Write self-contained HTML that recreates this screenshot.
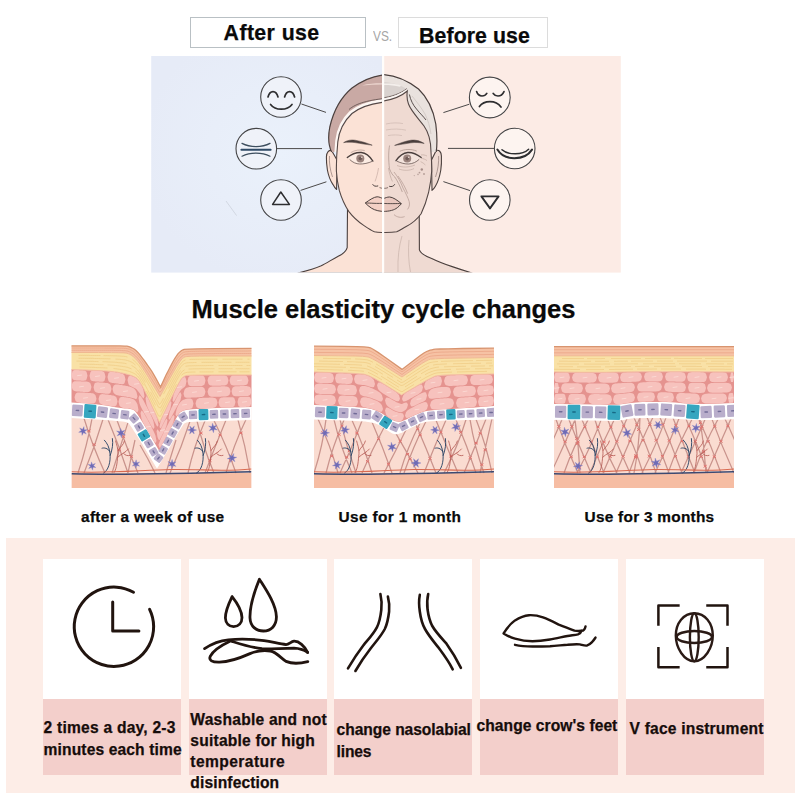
<!DOCTYPE html>
<html>
<head>
<meta charset="utf-8">
<style>
html,body{margin:0;padding:0;}
body{width:800px;height:800px;position:relative;overflow:hidden;background:#fff;font-family:"Liberation Sans",sans-serif;color:#0a0a0a;}
.abs{position:absolute;}
.tx{position:absolute;white-space:nowrap;-webkit-text-stroke:0.25px currentColor;}
.tbox{position:absolute;top:17px;height:31px;box-sizing:border-box;background:#fff;text-align:center;font-weight:bold;font-size:22px;line-height:30px;white-space:nowrap;}
#b1{left:190px;width:176px;border:1px solid #b9c0c4;}
#b2{left:398px;width:150px;border:1px solid #dcdcdc;}
#vs{position:absolute;left:372px;top:28px;font-size:13px;color:#a0a0a0;letter-spacing:-0.5px;line-height:16px;}
#panel{position:absolute;left:151px;top:56px;width:470px;height:216.6px;}
#title{position:absolute;left:0;width:800px;top:292px;text-align:center;font-weight:bold;font-size:26px;line-height:32px;white-space:nowrap;}
.sk{position:absolute;top:345px;width:182px;height:143px;}
.lbl{position:absolute;top:508px;font-weight:bold;font-size:15px;line-height:20px;white-space:nowrap;}
#bottom{position:absolute;left:6px;top:538px;width:788.5px;height:254.5px;background:#fdede7;}
.card{position:absolute;top:559px;width:138px;height:140px;background:#fff;}
.cap{position:absolute;top:699px;width:138px;height:76px;background:#f3cfcb;}
.ct{position:absolute;font-weight:bold;font-size:15px;line-height:21px;white-space:nowrap;color:#120a08;}
</style>
</head>
<body>
<div class="tbox" id="b1"></div>
<div class="tbox" id="b2"></div>

<svg id="panel" viewBox="151 56 470 216.6">
<defs>
<radialGradient id="gl" cx="0.55" cy="0.45" r="0.6"><stop offset="0" stop-color="#eaf1fb"/><stop offset="1" stop-color="#e6ebf7"/></radialGradient>
<clipPath id="cpL"><rect x="151" y="56" width="231" height="216.5"/></clipPath>
<clipPath id="cpR"><rect x="384" y="56" width="236" height="216.5"/></clipPath>
<clipPath id="cpAll"><rect x="151.2" y="56" width="469.6" height="216.6"/></clipPath>
</defs>
<rect x="151.2" y="56" width="232" height="216.6" fill="url(#gl)"/>
<rect x="383" y="56" width="237.8" height="216.6" fill="#fcebe5"/>
<g clip-path="url(#cpAll)">
<path d="M226,201 L236.6,215.6" stroke="#c3c8d2" stroke-width="0.6" fill="none"/>
<!-- LEFT half -->
<g clip-path="url(#cpL)">
 <!-- neck + shoulders -->
 <path d="M347.5,208 L347.2,247.7 C346,252 342,254.5 338.2,256.2 C332,259.5 326,263.5 321.2,265.8 C314,269 306,271 298,273 L390,273 L390,208 Z" fill="#fbe2d6" stroke="#4a3f3d" stroke-width="1.1" stroke-linejoin="round"/>
 <!-- ear -->
 <path d="M331.6,150.5 C329,150 326.6,152 326.4,157 C326.3,162 326.8,166 327.4,170 C328.5,176 330.5,181 333,184.6 C334,186.6 335.4,188.6 336.6,189.5 L337,160 Z" fill="#fbe2d6" stroke="#4a3f3d" stroke-width="1.1" stroke-linejoin="round"/>
 <!-- hair -->
 <path d="M390,74.4 C376,74.6 364,79 352,88 C340,98 333,113 329.8,127 C328.2,135 328.3,145 331.6,152 L337.5,152 C336.5,140 339,128 345,118 C352,108 366,101 390,98 Z" fill="#c9a9a4"/>
 <path d="M362,85.5 C369,83.5 376,83.2 383,83.3 L383,84.6 C376,84.6 369,85 362,85.5 Z" fill="#ecd6cf"/>
 <!-- face skin -->
 <path d="M390,101.5 C372,102.8 360,107 352,113.5 C344,121 339,131 337.8,142 C337,150 336.2,160 336.4,171.2 C336.8,178 337.8,184 339.3,190.4 C341.5,198 344.5,205 348.9,211.6 C353,217 358,221.5 363.7,225.4 C367,227.6 370.5,230 374.4,231.8 C378,232.6 384,232.6 390,232.4 Z" fill="#fbe2d6"/>
 <!-- white band under hair -->
 <path d="M390,99.6 C371,101 358,105.5 350,112.5 C342,120 337.6,131 336.4,141 L335.6,152" fill="none" stroke="#fdf6f2" stroke-width="2.4"/>
 <!-- outlines -->
 <path d="M390,74.4 C376,74.6 364,79 352,88 C340,98 333,113 329.8,127 C328.2,135 328.3,145 331.6,152" fill="none" stroke="#4a3f3d" stroke-width="1.2"/>
 <path d="M390,98 C368,99.8 356,103.5 349,109.5" fill="none" stroke="#5a4b49" stroke-width="0.8"/>
 <path d="M390,101.5 C372,102.8 360,107 352,113.5 C344,121 339,131 337.8,142 C337,150 336.2,160 336.4,171.2 C336.8,178 337.8,184 339.3,190.4 C341.5,198 344.5,205 348.9,211.6 C353,217 358,221.5 363.7,225.4 C367,227.6 370.5,230 374.4,231.8 C378,232.6 384,232.6 390,232.4" fill="none" stroke="#544745" stroke-width="1.1"/>
 <!-- inner ear line -->
 <path d="M329.5,156 C329,162 330,170 332.5,177" fill="none" stroke="#8f7a76" stroke-width="0.7"/>
 <!-- eyebrow -->
 <path d="M343.6,142.6 C347,140.3 351,139.6 355,140.2 C361,141.2 367,143 372.2,145.2 C367,144.6 361,143.6 355,142.6 C351,142 347,142 343.6,142.6 Z" fill="#4a3f3d" stroke="#4a3f3d" stroke-width="0.5" stroke-linejoin="round"/>
<g transform="translate(0.7,0.9)">
 <!-- eye -->
 <path d="M347.6,157 C351,153.5 356,151.6 360.5,151.8 C365,152.2 369,155.5 372,160.2 C368,162.2 363,163.4 358.5,163 C354,162.4 350,160 347.6,157 Z" fill="#fcece3"/>
 <circle cx="359.6" cy="157.6" r="4" fill="#9a827c"/>
 <circle cx="359.6" cy="157.6" r="1.8" fill="#6f5a56"/><circle cx="361.1" cy="156.3" r="0.8" fill="#e9dcd6"/>
 <path d="M346.6,156.6 C351,153 356,151.4 360.5,151.6 C365,152 369,155.3 372.2,160.2" fill="none" stroke="#4a3f3d" stroke-width="1.3" stroke-linecap="round"/>
 <path d="M349,158.6 C352,161.6 355.5,163 359,163.1 C363,163.2 367.5,162.3 371.6,160.4" fill="none" stroke="#6a5854" stroke-width="0.8"/>
 <path d="M350,151.8 C354,149.2 359,148.4 364,149.6" fill="none" stroke="#a89088" stroke-width="0.6"/>
</g>
 <!-- nose -->
 <path d="M378.5,168 C377.8,173 376.4,178 375,181.5" fill="none" stroke="#c7aca3" stroke-width="0.7"/>
 <path d="M372.8,184.6 C373.6,186.2 375.6,186.6 377.8,186 " fill="none" stroke="#4a3f3d" stroke-width="1" stroke-linecap="round"/>
 <path d="M379.5,187.6 C381,188.2 382.6,188.4 384,188.3" fill="none" stroke="#6a5854" stroke-width="0.8"/>
 <!-- lips -->
 <path d="M365.3,203 C370,199.6 374,197 377.1,196.8 C379.6,196.8 381,198 383.3,198.6 L386,198.6 L386,211.5 C380,211.6 375,210.4 371.5,208.2 C369,206.6 367,204.8 365.3,203 Z" fill="#f4d0c5"/>
 <path d="M386,198.6 L383.3,198.6 C381,198 379.6,196.8 377.1,196.8 C374,197 370,199.6 365.3,203 C367,204.8 369,206.6 371.5,208.2 C375,210.4 380,211.6 386,211.5" fill="none" stroke="#4a3f3d" stroke-width="1" stroke-linejoin="round"/>
 <path d="M365.3,203 C371,203 376,203.8 386,203.2" fill="none" stroke="#4a3f3d" stroke-width="0.9"/>
</g>
<!-- RIGHT half -->
<g clip-path="url(#cpR)">
 <path d="M419.2,208 L419.4,249.9 C420.5,253.5 425,256 431.7,258.4 C438,261.5 446,264.5 453,266.9 C459,269 466,271.2 472,273 L380,273 L380,208 Z" fill="#efdad2" stroke="#4a3f3d" stroke-width="1.1" stroke-linejoin="round"/>
 <!-- neck wrinkles -->
 <path d="M402,236 C399,246 397.5,258 398,272 M409,240 C408,250 408.5,262 410.5,272" fill="none" stroke="#c9b3ab" stroke-width="0.7"/>
 <!-- ear -->
 <path d="M436.2,150.5 C439,149.6 441.2,151.6 441.4,156 C441.6,161 441.4,166 440.8,170 C439.8,176 438,182 435.4,186.2 C434.4,188 433,189.6 432,190.4 L431.5,160 Z" fill="#efdad2" stroke="#4a3f3d" stroke-width="1.1" stroke-linejoin="round"/>
 <!-- hair (grey) -->
 <path d="M380,74.4 C394,74.6 407,80 418.5,89 C428,98 433.5,111 435.8,124 C437,134 437.4,144 436.2,152 L430.5,152 C431,142 429,132 424,126 C418,118 410.5,110 408,102 C407,98 407,94.5 407.5,90.5 C401,96 392,100 380,101.5 Z" fill="#e9e2de"/>
 <path d="M380,82 C390,82 398,84 406,88.5 C399,93.5 391,97 380,98.2 Z" fill="#d9d2cf"/>
 <path d="M384,83.6 C390,83.2 396,83.8 401,85.4 L400,86.8 C395,85.6 390,85 384,85 Z" fill="#f4efec"/>
 <!-- face skin -->
 <path d="M380,101.5 C392,100 401,96.5 407.3,91 C406.6,96 407,100 408.5,104 C411,111 418,118 424,126 C429,133 431,142 431,152 C431.6,160 431.8,166 431.7,171.2 C431.2,179 430,186 428.6,192.5 C426.8,200 424.4,207 421.1,213.7 C417,219.5 412,223.5 406.2,226.5 C402.5,228.5 399.5,230.5 396.7,231.8 C392,232.6 386,232.6 380,232.4 Z" fill="#efdad2"/>
 <!-- outlines -->
 <path d="M380,74.4 C394,74.6 407,80 418.5,89 C428,98 433.5,111 435.8,124 C437,134 437.4,144 436.2,152" fill="none" stroke="#4a3f3d" stroke-width="1.2"/>
 <path d="M380,98.2 C392,97 400,93.6 407,88.6" fill="none" stroke="#5a4b49" stroke-width="0.8"/>
 <path d="M380,99.9 C392,98.6 400.5,95.3 407.2,90" fill="none" stroke="#fbf6f3" stroke-width="1.6"/>
 <path d="M380,101.5 C392,100 401,96.5 407.3,91 C406.6,96 407,100 408.5,104 C411,111 418,118 424,126 C429,133 431,142 431,152" fill="none" stroke="#544745" stroke-width="1.1"/>
 <path d="M409.4,94.5 C410.5,100 413,105 416.5,109 C420,113.5 423.5,116.5 426,120" fill="none" stroke="#4a3f3d" stroke-width="0.9"/>
 <path d="M412,96 C416,101 421,107 425,114 C428,120 430,127 431,134" fill="none" stroke="#cfc6c2" stroke-width="0.8"/>
 <path d="M431,152 C431.6,160 431.8,166 431.7,171.2 C431.2,179 430,186 428.6,192.5 C426.8,200 424.4,207 421.1,213.7 C417,219.5 412,223.5 406.2,226.5 C402.5,228.5 399.5,230.5 396.7,231.8 C392,232.6 386,232.6 380,232.4" fill="none" stroke="#544745" stroke-width="1.1"/>
 <path d="M438.6,156 C439,162 438,170 435.5,177" fill="none" stroke="#8f7a76" stroke-width="0.7"/>
 <!-- forehead wrinkles -->
 <path d="M386,124 C392,122.6 398,122.6 403,123.6 M386,130 C393,128.6 400,128.8 406,130.2 M388,135.6 C393,134.6 398,134.8 402,135.6" fill="none" stroke="#d2bdb5" stroke-width="0.8"/>
 <!-- eyebrow -->
 <path d="M394.6,145.4 C400,143 406,141 411,140.2 C415.5,139.6 420,140.8 424.2,143.4 C420,142.6 415.5,142.2 411,142.8 C405.5,143.6 400,144.8 394.6,145.4 Z" fill="#4a3f3d" stroke="#4a3f3d" stroke-width="0.5" stroke-linejoin="round"/>
<g transform="translate(0.8,0.7)">
 <!-- eye -->
 <path d="M395.4,160 C398.5,155.4 402.5,152.4 407,152 C411.5,151.8 416,153.6 419.4,157 C417,160.2 413,162.6 408.6,163.2 C404,163.6 399.4,162.2 395.4,160 Z" fill="#f3e3dc"/>
 <circle cx="406.4" cy="157.9" r="4" fill="#9a827c"/>
 <circle cx="406.4" cy="157.9" r="1.8" fill="#6f5a56"/><circle cx="407.9" cy="156.6" r="0.8" fill="#e9dcd6"/>
 <path d="M395.2,160 C398.5,155.2 402.5,152.2 407,151.8 C411.5,151.6 416,153.4 420.4,156.8" fill="none" stroke="#4a3f3d" stroke-width="1.3" stroke-linecap="round"/>
 <path d="M396,160.4 C400,162.4 404,163.4 408,163.3 C412,163 415.5,161.4 418.4,158.6" fill="none" stroke="#6a5854" stroke-width="0.8"/>
 <path d="M399,150.6 C404,148.4 410,148 416,150.4" fill="none" stroke="#a89088" stroke-width="0.7"/>
</g>
 <!-- eye bags / crow's feet -->
 <path d="M397,165.5 C402,167.6 409,167.6 415,165 M399,169 C404,171 410,170.6 414,168.6 M421,155 C423,154.6 425,155 427,156 M421.4,158.4 C423.4,158.6 425.4,159.4 427,160.6 M420.6,161.6 C422.4,162.4 424,163.6 425.4,165" fill="none" stroke="#c4ada5" stroke-width="0.7"/>
 <!-- spots -->
 <circle cx="421.8" cy="169.5" r="1.2" fill="#a58d88"/><circle cx="419.5" cy="172.6" r="0.9" fill="#b39c96"/><circle cx="424" cy="174" r="0.9" fill="#b39c96"/><circle cx="418" cy="174.4" r="0.8" fill="#bda7a1"/><circle cx="414.3" cy="175.6" r="0.7" fill="#c4aea8"/>
 <!-- nose + nasolabial -->
 <path d="M389.6,145.5 C388.4,151 388.4,160 389.5,168.8 C391,173 393,175.6 394.8,177 C397,180 400,186 402.3,192" fill="none" stroke="#a8918a" stroke-width="0.7"/>
 <path d="M388.5,168 C389.4,173 390.8,178 392.4,181.5" fill="none" stroke="#bfa69e" stroke-width="0.7"/>
 <path d="M389.6,186.4 C391.6,187 393.6,186.4 394.6,184.6" fill="none" stroke="#4a3f3d" stroke-width="1" stroke-linecap="round"/>
 <path d="M384,188.3 C385.4,188.4 386.8,188.2 388,187.6" fill="none" stroke="#6a5854" stroke-width="0.8"/>
 <path d="M394,172 C398,177 401,182.5 403,188 C405.6,193 408,197.6 409.2,201.6 C410,205 409,207.6 407.5,209.4 M398,176 C402,181.5 405.4,187.6 407.6,193.6 M394,214.6 C397,217.4 401,218 404.6,216.6" fill="none" stroke="#b9a098" stroke-width="0.8"/>
 <!-- lips -->
 <path d="M401.3,203.6 C397,200 393,197.2 389.5,197 C387,197 385.6,198 383.3,198.6 L380,198.6 L380,211.5 C388,211.6 392.6,210.6 396,208.6 C398.4,207 400,205.4 401.3,203.6 Z" fill="#e9c8bf"/>
 <path d="M380,198.6 L383.3,198.6 C385.6,198 387,197 389.5,197 C393,197.2 397,200 401.3,203.6 C400,205.4 398.4,207 396,208.6 C392.6,210.6 388,211.6 380,211.5" fill="none" stroke="#4a3f3d" stroke-width="1" stroke-linejoin="round"/>
 <path d="M401.3,203.6 C396,203.4 391,204 380,203.2" fill="none" stroke="#4a3f3d" stroke-width="0.9"/>
</g>
<!-- divider -->
<rect x="382" y="56" width="2.2" height="217" fill="#fffdfb"/>
<!-- connector lines -->
<g fill="none" stroke="#4a4848" stroke-width="1">
<path d="M301.4,104 L326,112.4 M277,148.6 L322,148.6 M300.6,190.4 L326.4,181.8"/>
<path d="M443.4,112.6 L469.4,104.2 M448,148.4 L494.4,148.4 M443.4,181.6 L470,190.6"/>
</g>
<!-- circles -->
<g fill="#eff2f9" stroke="#444446" stroke-width="1.1">
<circle cx="281" cy="97" r="20.3"/><circle cx="256.3" cy="148.7" r="20.3"/><circle cx="281" cy="200" r="20.3"/>
</g>
<g fill="#fdf4f0" stroke="#444446" stroke-width="1.1">
<circle cx="489.8" cy="97.5" r="20.4"/><circle cx="514.7" cy="148.5" r="20.3"/><circle cx="489.8" cy="200" r="20.3"/>
</g>
<g fill="none" stroke="#2e2e30" stroke-width="1.7" stroke-linecap="round" stroke-linejoin="round">
 <!-- smile -->
 <path d="M268,97 C269,93 271,91.6 273,91.6 C275,91.6 277,93 278,97 M284.6,97 C285.6,93 287.4,91.6 289.6,91.6 C291.8,91.6 293.6,93 294.6,97 M270.6,104.4 C273,107.6 277,109.2 281.2,109.2 C285.4,109.2 289.6,107.6 292,104.4"/>
 <!-- lines -->
 <path d="M242,143.4 C250,147.6 262,147.6 270,143.4 M242,156.2 C250,152 262,152 270,156.2" stroke-width="1.2" stroke="#3d4e5e"/>
 <path d="M241.4,149.8 L270.6,149.8" stroke-width="2" stroke="#2f4a66"/>
 <!-- triangle -->
 <path d="M280.8,192 L272.6,204.4 L289.4,204.4 Z" stroke-width="1.5"/>
 <!-- sad -->
 <path d="M476.6,91.6 C477.6,94.6 479.6,96 482,96 C484,96 485.8,95 486.8,93.4 M493.2,93.4 C494.4,95 496,96 498,96 C500.4,96 502.6,94.6 504,91.6 M479.4,106.6 C481.6,103.4 485.6,101.6 490,101.6 C494.4,101.6 498.6,103.6 501,107"/>
 <!-- sag -->
 <path d="M497.4,149.6 C500.5,155 506.5,158.2 514.4,158.2 C522.4,158.2 528.6,155 532,149.6" stroke-width="2"/>
 <path d="M502,149.8 C505,152.6 509.6,153.8 515.2,153.8 C521,153.8 525.6,152.2 528.6,149.2" stroke-width="1.5"/>
 <!-- down triangle -->
 <path d="M481.4,196.4 L498.6,196.4 L490,208.4 Z" stroke-width="1.9"/>
</g>
</g>
</svg>



<svg id="skins" class="abs" style="left:60px;top:340px" width="690" height="152" viewBox="60 340 690 152">
<clipPath id="c1"><rect x="71.5" y="340" width="180.0" height="148"/></clipPath>
<g clip-path="url(#c1)">
<path d="M71.0,402.5 L87.3,403.6 L95.8,404.3 L101.9,405.0 L107.5,405.8 L112.5,406.7 L117.0,407.4 L121.0,408.0 L124.5,408.4 L127.5,408.6 L130.1,409.0 L132.2,409.6 L133.9,410.3 L135.1,411.2 L137.4,414.2 L140.8,419.4 L146.6,429.1 L159.0,450.5 L169.7,430.2 L174.7,421.0 L177.6,416.1 L179.5,413.2 L180.5,412.3 L181.8,411.5 L183.2,410.8 L185.0,410.2 L187.0,409.8 L192.4,409.2 L201.1,408.8 L217.1,408.1 L252.0,407.0 L251.5,488.0 L71.5,488.0Z" fill="#fadcd1"/>
<rect x="71.5" y="473.0" width="180.0" height="15.0" fill="#f6bda3"/>
<path d="M84.0,418.2 Q92.3,445.6 105.0,473.0 M92.0,418.6 Q87.1,445.8 78.0,473.0 M103.0,419.3 Q95.1,446.1 84.0,473.0 M117.0,420.3 Q126.0,446.7 138.0,473.0 M128.0,422.4 Q120.0,447.7 112.0,473.0 M135.0,440.0 Q131.2,456.5 128.0,473.0 M140.0,445.0 Q148.4,459.0 155.0,473.0 M190.0,421.3 Q181.7,447.2 170.0,473.0 M197.0,421.0 Q203.1,447.0 214.0,473.0 M205.0,420.7 Q193.7,446.9 188.0,473.0 M214.0,420.5 Q227.0,446.7 236.0,473.0 M226.0,420.1 Q215.1,446.6 205.0,473.0 M238.0,419.9 Q245.6,446.4 250.0,473.0 M246.0,419.6 Q233.0,446.3 226.0,473.0 M176.0,440.0 Q170.7,456.5 166.0,473.0 M108.0,419.6 Q119.3,446.3 128.0,473.0" fill="none" stroke="#c9938c" stroke-width="1.25"/>
<path d="M87.3,429.6l3.2,2.4M87.3,432.0l3.2,-2.4 M92.5,443.3l3.2,2.4M92.5,445.7l3.2,-2.4 M121.9,435.4l3.2,2.4M121.9,437.8l3.2,-2.4 M129.9,455.4l3.2,2.4M129.9,457.8l3.2,-2.4 M117.7,448.6l3.2,2.4M117.7,451.0l3.2,-2.4 M199.4,431.9l3.2,2.4M199.4,434.3l3.2,-2.4 M208.3,459.4l3.2,2.4M208.3,461.8l3.2,-2.4 M218.5,433.8l3.2,2.4M218.5,436.2l3.2,-2.4 M229.1,459.2l3.2,2.4M229.1,461.6l3.2,-2.4 M239.4,431.8l3.2,2.4M239.4,434.2l3.2,-2.4" fill="none" stroke="#e0716d" stroke-width="1"/>
<path d="M84.02,426.62 L84.17,429.75 L87.31,429.69 L84.67,431.39 L86.29,434.08 L83.50,432.64 L81.98,435.38 L81.83,432.25 L78.69,432.31 L81.33,430.61 L79.71,427.92 L82.50,429.36Z M124.89,430.19 L122.81,432.81 L125.38,434.96 L122.07,434.48 L121.49,437.78 L120.25,434.66 L117.11,435.81 L119.19,433.19 L116.62,431.04 L119.93,431.52 L120.51,428.22 L121.75,431.34Z M95.29,463.39 L93.58,465.77 L95.90,467.55 L92.99,467.25 L92.61,470.16 L91.41,467.48 L88.71,468.61 L90.42,466.23 L88.10,464.45 L91.01,464.75 L91.39,461.84 L92.59,464.52Z M136.13,459.80 L136.84,462.64 L139.70,462.01 L137.60,464.05 L139.57,466.21 L136.76,465.41 L135.87,468.20 L135.16,465.36 L132.30,465.99 L134.40,463.95 L132.43,461.79 L135.24,462.59Z M172.12,459.40 L172.91,462.51 L176.04,461.80 L173.75,464.04 L175.92,466.40 L172.84,465.54 L171.88,468.60 L171.09,465.49 L167.96,466.20 L170.25,463.96 L168.08,461.60 L171.16,462.46Z M194.37,426.06 L193.53,429.15 L196.60,430.08 L193.50,430.90 L194.23,434.02 L191.97,431.75 L189.63,433.94 L190.47,430.85 L187.40,429.92 L190.50,429.10 L189.77,425.98 L192.03,428.25Z M216.87,425.17 L214.81,427.80 L217.39,429.94 L214.08,429.47 L213.52,432.77 L212.26,429.67 L209.13,430.83 L211.19,428.20 L208.61,426.06 L211.92,426.53 L212.48,423.23 L213.74,426.33Z M233.79,453.54 L233.43,456.87 L236.75,457.32 L233.69,458.68 L234.97,461.77 L232.26,459.81 L230.21,462.46 L230.57,459.13 L227.25,458.68 L230.31,457.32 L229.03,454.23 L231.74,456.19Z" fill="#6f6bb6" stroke="#8f8cc8" stroke-width="0.4"/>
<g transform="translate(110,473.0) scale(0.8) translate(-110,-473.0)">
<path d="M102,473.0 C108,470.0 111,459.0 110,449.0 C109.5,441.0 106,435.0 103,432.0 M110.3,451.0 C113,443.0 114,437.0 113,430.0 M109.7,446.0 C107,442.0 103,441.0 100,442.0" fill="none" stroke="#2f4868" stroke-width="1.2" stroke-linecap="round"/>
<path d="M115,472.5 C119,467.0 119,457.0 120,449.0 C120.5,443.0 118,437.0 117,433.0 M120,453.0 C124,449.0 129,448.0 133,443.0 M120,445.0 C123,440.0 127,438.0 128,433.0 M127,448.5 C129,451.0 132,452.0 135,451.0" fill="none" stroke="#b4564f" stroke-width="1" stroke-linecap="round"/>
</g>
<g transform="translate(203,473.0) scale(0.8) translate(-203,-473.0)">
<path d="M195,473.0 C201,470.0 204,459.0 203,449.0 C202.5,441.0 199,435.0 196,432.0 M203.3,451.0 C206,443.0 207,437.0 206,430.0 M202.7,446.0 C200,442.0 196,441.0 193,442.0" fill="none" stroke="#2f4868" stroke-width="1.2" stroke-linecap="round"/>
<path d="M208,472.5 C212,467.0 212,457.0 213,449.0 C213.5,443.0 211,437.0 210,433.0 M213,453.0 C217,449.0 222,448.0 226,443.0 M213,445.0 C216,440.0 220,438.0 221,433.0 M220,448.5 C222,451.0 225,452.0 228,451.0" fill="none" stroke="#b4564f" stroke-width="1" stroke-linecap="round"/>
</g>
<path d="M71.5,471.8 C111.5,473.5 141.5,470.0 171.5,469.5 S221.5,472.0 251.5,469.0" fill="none" stroke="#d96a50" stroke-width="1.1"/>
<path d="M71.5,473.8 C121.5,475.2 191.5,473.5 251.5,471.8" fill="none" stroke="#3c4a72" stroke-width="1.5"/>
<path d="M71.0,402.5 L87.3,403.6 L95.8,404.3 L101.9,405.0 L107.5,405.8 L112.5,406.7 L117.0,407.4 L121.0,408.0 L124.5,408.4 L127.5,408.6 L130.1,409.0 L132.2,409.6 L133.9,410.3 L135.1,411.2 L137.4,414.2 L140.8,419.4 L146.6,429.1 L159.0,450.5 L169.7,430.2 L174.7,421.0 L177.6,416.1 L179.5,413.2 L180.5,412.3 L181.8,411.5 L183.2,410.8 L185.0,410.2 L187.0,409.8 L192.4,409.2 L201.1,408.8 L217.1,408.1 L252.0,407.0 L252.0,419.5 L218.2,420.3 L202.8,420.8 L194.4,421.1 L189.4,421.4 L187.6,421.6 L186.1,422.0 L184.9,422.5 L183.9,423.1 L183.1,423.9 L181.0,427.1 L177.5,432.8 L171.1,443.6 L157.0,467.5 L142.4,443.3 L135.6,432.4 L131.9,426.6 L129.5,423.4 L128.5,422.6 L127.3,422.0 L125.9,421.5 L124.4,421.1 L122.6,420.9 L120.1,420.6 L116.7,420.3 L112.5,419.9 L107.5,419.6 L101.9,419.2 L95.8,418.8 L87.3,418.3 L71.0,417.5Z" fill="#ffffff" stroke="#ffffff" stroke-width="1.2" stroke-linejoin="round"/>
<g transform="translate(77.4,410.4) rotate(3.5)"><rect x="-5.4" y="-5.7" width="10.8" height="11.5" rx="1.2" fill="#b9aecb"/><rect x="-1.9" y="-0.7" width="3.8" height="1.4" rx="0.7" fill="#716c98"/></g>
<g transform="translate(90.1,411.2) rotate(3.5)"><rect x="-6.0" y="-6.8" width="12.0" height="13.7" rx="1.2" fill="#36a6bf"/><rect x="-1.9" y="-0.7" width="3.8" height="1.4" rx="0.7" fill="#176a86"/></g>
<g transform="translate(102.5,412.1) rotate(7.1)"><rect x="-5.1" y="-5.4" width="10.2" height="10.9" rx="1.2" fill="#b9aecb"/><rect x="-1.9" y="-0.7" width="3.8" height="1.4" rx="0.7" fill="#716c98"/></g>
<g transform="translate(114.1,413.5) rotate(7.1)"><rect x="-4.6" y="-4.8" width="9.2" height="9.7" rx="1.2" fill="#b9aecb"/><rect x="-1.9" y="-0.7" width="3.8" height="1.4" rx="0.7" fill="#716c98"/></g>
<g transform="translate(124.9,414.8) rotate(6.0)"><rect x="-4.3" y="-4.4" width="8.5" height="8.8" rx="1.2" fill="#b9aecb"/><rect x="-1.9" y="-0.7" width="3.8" height="1.4" rx="0.7" fill="#716c98"/></g>
<g transform="translate(134.0,418.5) rotate(47.7)"><rect x="-3.9" y="-4.0" width="7.8" height="8.0" rx="1.2" fill="#b9aecb"/><rect x="-1.9" y="-0.7" width="3.8" height="1.4" rx="0.7" fill="#716c98"/></g>
<g transform="translate(139.0,426.9) rotate(59.3)"><rect x="-3.9" y="-4.0" width="7.7" height="7.9" rx="1.2" fill="#b9aecb"/><rect x="-1.9" y="-0.7" width="3.8" height="1.4" rx="0.7" fill="#716c98"/></g>
<g transform="translate(143.9,435.3) rotate(59.3)"><rect x="-4.5" y="-5.1" width="9.1" height="10.2" rx="1.2" fill="#36a6bf"/><rect x="-1.9" y="-0.7" width="3.8" height="1.4" rx="0.7" fill="#176a86"/></g>
<g transform="translate(148.8,443.5) rotate(59.3)"><rect x="-3.8" y="-3.9" width="7.6" height="7.8" rx="1.2" fill="#b9aecb"/><rect x="-1.9" y="-0.7" width="3.8" height="1.4" rx="0.7" fill="#716c98"/></g>
<g transform="translate(153.7,451.8) rotate(59.3)"><rect x="-3.8" y="-3.8" width="7.5" height="7.7" rx="1.2" fill="#b9aecb"/><rect x="-1.9" y="-0.7" width="3.8" height="1.4" rx="0.7" fill="#716c98"/></g>
<g transform="translate(158.5,458.1) rotate(-51.9)"><rect x="-3.7" y="-3.8" width="7.5" height="7.6" rx="1.2" fill="#b9aecb"/><rect x="-1.9" y="-0.7" width="3.8" height="1.4" rx="0.7" fill="#716c98"/></g>
<g transform="translate(163.2,449.8) rotate(-60.7)"><rect x="-3.8" y="-3.8" width="7.5" height="7.7" rx="1.2" fill="#b9aecb"/><rect x="-1.9" y="-0.7" width="3.8" height="1.4" rx="0.7" fill="#716c98"/></g>
<g transform="translate(167.9,441.4) rotate(-60.7)"><rect x="-3.8" y="-3.9" width="7.6" height="7.8" rx="1.2" fill="#b9aecb"/><rect x="-1.9" y="-0.7" width="3.8" height="1.4" rx="0.7" fill="#716c98"/></g>
<g transform="translate(172.6,433.0) rotate(-60.7)"><rect x="-3.8" y="-3.9" width="7.7" height="7.9" rx="1.2" fill="#b9aecb"/><rect x="-1.9" y="-0.7" width="3.8" height="1.4" rx="0.7" fill="#716c98"/></g>
<g transform="translate(177.3,424.5) rotate(-60.7)"><rect x="-3.9" y="-4.0" width="7.8" height="8.0" rx="1.2" fill="#b9aecb"/><rect x="-1.9" y="-0.7" width="3.8" height="1.4" rx="0.7" fill="#716c98"/></g>
<g transform="translate(183.2,416.8) rotate(-31.2)"><rect x="-4.0" y="-4.1" width="8.0" height="8.2" rx="1.2" fill="#b9aecb"/><rect x="-1.9" y="-0.7" width="3.8" height="1.4" rx="0.7" fill="#716c98"/></g>
<g transform="translate(193.1,414.9) rotate(-1.6)"><rect x="-4.2" y="-4.3" width="8.3" height="8.6" rx="1.2" fill="#b9aecb"/><rect x="-1.9" y="-0.7" width="3.8" height="1.4" rx="0.7" fill="#716c98"/></g>
<g transform="translate(203.5,414.6) rotate(-1.6)"><rect x="-4.9" y="-5.6" width="9.8" height="11.1" rx="1.2" fill="#36a6bf"/><rect x="-1.9" y="-0.7" width="3.8" height="1.4" rx="0.7" fill="#176a86"/></g>
<g transform="translate(213.9,414.3) rotate(-1.6)"><rect x="-4.2" y="-4.4" width="8.5" height="8.8" rx="1.2" fill="#b9aecb"/><rect x="-1.9" y="-0.7" width="3.8" height="1.4" rx="0.7" fill="#716c98"/></g>
<g transform="translate(224.4,414.0) rotate(-1.6)"><rect x="-4.3" y="-4.4" width="8.6" height="8.9" rx="1.2" fill="#b9aecb"/><rect x="-1.9" y="-0.7" width="3.8" height="1.4" rx="0.7" fill="#716c98"/></g>
<g transform="translate(235.0,413.7) rotate(-1.6)"><rect x="-4.3" y="-4.5" width="8.6" height="9.0" rx="1.2" fill="#b9aecb"/><rect x="-1.9" y="-0.7" width="3.8" height="1.4" rx="0.7" fill="#716c98"/></g>
<g transform="translate(245.7,413.4) rotate(-1.6)"><rect x="-4.4" y="-4.5" width="8.7" height="9.0" rx="1.2" fill="#b9aecb"/><rect x="-1.9" y="-0.7" width="3.8" height="1.4" rx="0.7" fill="#716c98"/></g>
<path d="M71.0,369.5 L92.9,370.3 L103.4,370.8 L109.8,371.3 L114.5,371.8 L117.5,372.2 L120.4,372.8 L123.1,373.3 L125.8,373.9 L128.2,374.6 L130.6,375.3 L132.9,376.2 L135.0,377.2 L137.0,378.3 L139.7,381.8 L143.2,387.7 L148.5,398.6 L159.5,422.5 L171.0,398.6 L176.4,387.7 L179.5,381.9 L181.5,378.5 L182.5,377.5 L183.6,376.7 L184.9,376.1 L186.2,375.6 L187.8,375.4 L192.8,375.2 L201.2,375.1 L217.1,375.0 L252.0,375.0 L252.0,407.0 L217.1,408.1 L201.1,408.8 L192.4,409.2 L187.0,409.8 L185.0,410.2 L183.2,410.8 L181.8,411.5 L180.5,412.3 L179.5,413.2 L177.6,416.1 L174.7,421.0 L169.7,430.2 L159.0,450.5 L146.6,429.1 L140.8,419.4 L137.4,414.2 L135.1,411.2 L133.9,410.3 L132.2,409.6 L130.1,409.0 L127.5,408.6 L124.5,408.4 L121.0,408.0 L117.0,407.4 L112.5,406.7 L107.5,405.8 L101.9,405.0 L95.8,404.3 L87.3,403.6 L71.0,402.5Z" fill="#e5938f"/>
<path d="M71.5,375.0 L72.5,371.2 L73.5,370.4 L74.5,370.1 L75.5,370.1 L76.5,370.1 L77.5,370.1 L78.5,370.1 L79.5,370.2 L80.5,370.2 L81.5,370.3 L82.5,370.3 L83.5,370.4 L84.5,370.5 L85.5,370.9 L86.5,371.8 L87.5,375.7 L87.5,375.7 L86.5,379.6 L85.5,380.4 L84.5,380.6 L83.5,380.7 L82.5,380.7 L81.5,380.7 L80.5,380.6 L79.5,380.6 L78.5,380.5 L77.5,380.5 L76.5,380.4 L75.5,380.3 L74.5,380.2 L73.5,379.8 L72.5,378.9 L71.5,375.0Z M89.5,375.8 L90.5,372.0 L91.5,371.1 L92.5,370.8 L93.5,370.8 L94.5,370.8 L95.5,370.8 L96.5,370.9 L97.5,370.9 L98.5,371.0 L99.5,371.0 L100.5,371.1 L101.5,371.1 L102.5,371.3 L103.5,371.7 L104.5,372.7 L105.5,376.7 L105.5,376.7 L104.5,380.7 L103.5,381.5 L102.5,381.7 L101.5,381.8 L100.5,381.7 L99.5,381.7 L98.5,381.6 L97.5,381.5 L96.5,381.5 L95.5,381.4 L94.5,381.3 L93.5,381.2 L92.5,381.1 L91.5,380.7 L90.5,379.8 L89.5,375.8Z M107.5,376.9 L108.5,373.1 L109.5,372.3 L110.5,371.9 L111.5,371.9 L112.5,371.9 L113.5,372.0 L114.5,372.1 L115.5,372.3 L116.5,372.4 L117.5,372.6 L118.5,372.8 L119.5,373.0 L120.5,373.2 L121.5,373.4 L122.5,373.8 L123.5,374.4 L124.5,375.6 L125.5,379.6 L125.5,379.6 L124.5,383.3 L123.5,384.0 L122.5,384.3 L121.5,384.3 L120.5,384.1 L119.5,384.0 L118.5,383.8 L117.5,383.6 L116.5,383.5 L115.5,383.3 L114.5,383.2 L113.5,383.0 L112.5,382.9 L111.5,382.7 L110.5,382.4 L109.5,381.9 L108.5,380.9 L107.5,376.9Z M127.5,380.1 L128.5,376.5 L129.5,375.9 L130.5,375.8 L131.5,376.1 L132.5,376.4 L133.5,376.8 L134.5,377.3 L135.5,377.8 L136.5,378.4 L137.5,379.3 L138.5,380.6 L139.5,381.9 L140.5,383.6 L141.5,385.4 L142.5,387.5 L143.5,390.3 L144.5,396.3 L144.5,396.3 L143.5,398.4 L142.5,397.5 L141.5,396.2 L140.5,394.7 L139.5,393.1 L138.5,391.8 L137.5,390.4 L136.5,389.3 L135.5,388.5 L134.5,387.9 L133.5,387.4 L132.5,386.9 L131.5,386.5 L130.5,386.0 L129.5,385.4 L128.5,384.2 L127.5,380.1Z M145.5,398.2 L146.5,395.9 L147.5,397.2 L148.5,398.9 L149.5,401.1 L150.5,403.2 L151.5,405.4 L152.5,407.6 L153.5,409.8 L154.5,412.0 L155.5,414.2 L156.5,416.6 L157.5,419.4 L158.5,425.2 L158.5,425.2 L157.5,426.8 L156.5,425.4 L155.5,423.6 L154.5,421.6 L153.5,419.6 L152.5,417.6 L151.5,415.5 L150.5,413.5 L149.5,411.5 L148.5,409.4 L147.5,407.2 L146.5,404.5 L145.5,398.2Z M159.5,427.0 L160.5,421.5 L161.5,418.9 L162.5,416.7 L163.5,414.6 L164.5,412.5 L165.5,410.4 L166.5,408.3 L167.5,406.3 L168.5,404.2 L169.5,402.3 L170.5,400.9 L171.5,402.5 L171.5,402.5 L170.5,408.2 L169.5,410.8 L168.5,413.0 L167.5,415.1 L166.5,417.1 L165.5,419.1 L164.5,421.1 L163.5,423.1 L162.5,425.1 L161.5,427.0 L160.5,428.4 L159.5,427.0Z M172.5,400.5 L173.5,395.0 L174.5,392.2 L175.5,390.0 L176.5,387.9 L177.5,386.0 L178.5,384.1 L179.5,382.2 L180.5,380.5 L181.5,378.9 L182.5,377.9 L183.5,377.2 L184.5,377.0 L185.5,377.4 L186.5,381.3 L186.5,381.3 L185.5,385.7 L184.5,386.9 L183.5,387.7 L182.5,388.4 L181.5,389.2 L180.5,390.5 L179.5,391.9 L178.5,393.7 L177.5,395.5 L176.5,397.3 L175.5,399.1 L174.5,400.8 L173.5,402.1 L172.5,400.5Z M187.5,381.1 L188.5,377.2 L189.5,376.3 L190.5,375.9 L191.5,375.7 L192.5,375.6 L193.5,375.5 L194.5,375.5 L195.5,375.5 L196.5,375.5 L197.5,375.5 L198.5,375.5 L199.5,375.4 L200.5,375.4 L201.5,375.5 L202.5,375.6 L203.5,376.0 L204.5,376.9 L205.5,380.6 L205.5,380.6 L204.5,384.4 L203.5,385.3 L202.5,385.7 L201.5,385.9 L200.5,385.9 L199.5,386.0 L198.5,386.0 L197.5,386.0 L196.5,386.1 L195.5,386.1 L194.5,386.1 L193.5,386.2 L192.5,386.2 L191.5,386.2 L190.5,386.1 L189.5,385.7 L188.5,384.9 L187.5,381.1Z M207.5,380.6 L208.5,377.1 L209.5,376.2 L210.5,375.7 L211.5,375.5 L212.5,375.4 L213.5,375.4 L214.5,375.4 L215.5,375.4 L216.5,375.4 L217.5,375.4 L218.5,375.4 L219.5,375.4 L220.5,375.4 L221.5,375.4 L222.5,375.4 L223.5,375.4 L224.5,375.5 L225.5,375.7 L226.5,376.1 L227.5,377.0 L228.5,380.5 L228.5,380.5 L227.5,383.9 L226.5,384.8 L225.5,385.2 L224.5,385.5 L223.5,385.6 L222.5,385.6 L221.5,385.6 L220.5,385.7 L219.5,385.7 L218.5,385.7 L217.5,385.7 L216.5,385.7 L215.5,385.7 L214.5,385.7 L213.5,385.7 L212.5,385.7 L211.5,385.6 L210.5,385.4 L209.5,385.0 L208.5,384.1 L207.5,380.6Z M229.5,380.5 L230.5,376.9 L231.5,376.0 L232.5,375.6 L233.5,375.4 L234.5,375.4 L235.5,375.4 L236.5,375.4 L237.5,375.4 L238.5,375.4 L239.5,375.4 L240.5,375.4 L241.5,375.4 L242.5,375.4 L243.5,375.4 L244.5,375.4 L245.5,375.6 L246.5,376.0 L247.5,376.9 L248.5,380.4 L248.5,380.4 L247.5,383.9 L246.5,384.7 L245.5,385.1 L244.5,385.3 L243.5,385.4 L242.5,385.4 L241.5,385.4 L240.5,385.4 L239.5,385.5 L238.5,385.5 L237.5,385.5 L236.5,385.5 L235.5,385.5 L234.5,385.5 L233.5,385.4 L232.5,385.3 L231.5,384.9 L230.5,384.0 L229.5,380.5Z M71.5,386.0 L72.5,382.6 L73.5,381.7 L74.5,381.3 L75.5,381.2 L76.5,381.2 L77.5,381.2 L78.5,381.2 L79.5,381.3 L80.5,381.3 L81.5,381.4 L82.5,381.4 L83.5,381.5 L84.5,381.5 L85.5,381.6 L86.5,381.6 L87.5,381.8 L88.5,382.0 L89.5,382.5 L90.5,383.5 L91.5,387.1 L91.5,387.1 L90.5,390.7 L89.5,391.5 L88.5,391.9 L87.5,392.0 L86.5,392.0 L85.5,392.0 L84.5,391.9 L83.5,391.9 L82.5,391.8 L81.5,391.8 L80.5,391.7 L79.5,391.6 L78.5,391.6 L77.5,391.5 L76.5,391.4 L75.5,391.3 L74.5,391.0 L73.5,390.6 L72.5,389.6 L71.5,386.0Z M93.5,387.3 L94.5,383.6 L95.5,382.7 L96.5,382.4 L97.5,382.3 L98.5,382.3 L99.5,382.4 L100.5,382.4 L101.5,382.5 L102.5,382.6 L103.5,382.7 L104.5,382.8 L105.5,382.9 L106.5,383.0 L107.5,383.1 L108.5,383.4 L109.5,383.9 L110.5,384.9 L111.5,389.0 L111.5,389.0 L110.5,392.7 L109.5,393.5 L108.5,393.8 L107.5,393.8 L106.5,393.8 L105.5,393.7 L104.5,393.5 L103.5,393.4 L102.5,393.3 L101.5,393.2 L100.5,393.1 L99.5,393.0 L98.5,392.9 L97.5,392.8 L96.5,392.5 L95.5,392.1 L94.5,391.1 L93.5,387.3Z M112.5,389.1 L113.5,385.8 L114.5,384.9 L115.5,384.6 L116.5,384.5 L117.5,384.5 L118.5,384.6 L119.5,384.7 L120.5,384.9 L121.5,385.0 L122.5,385.2 L123.5,385.4 L124.5,385.6 L125.5,385.8 L126.5,385.9 L127.5,386.1 L128.5,386.4 L129.5,386.6 L130.5,386.9 L131.5,387.3 L132.5,387.7 L133.5,388.3 L134.5,389.1 L135.5,390.3 L136.5,392.1 L137.5,396.6 L137.5,396.6 L136.5,398.9 L135.5,398.9 L134.5,398.6 L133.5,398.3 L132.5,398.0 L131.5,397.8 L130.5,397.5 L129.5,397.3 L128.5,397.1 L127.5,396.9 L126.5,396.7 L125.5,396.6 L124.5,396.5 L123.5,396.3 L122.5,396.2 L121.5,396.0 L120.5,395.8 L119.5,395.7 L118.5,395.5 L117.5,395.3 L116.5,394.9 L115.5,394.5 L114.5,393.8 L113.5,392.7 L112.5,389.1Z M138.5,398.0 L139.5,395.3 L140.5,395.9 L141.5,397.3 L142.5,398.8 L143.5,400.6 L144.5,402.5 L145.5,404.4 L146.5,406.3 L147.5,408.2 L148.5,410.2 L149.5,412.2 L150.5,414.3 L151.5,416.4 L152.5,418.7 L153.5,421.6 L154.5,427.2 L154.5,427.2 L153.5,428.9 L152.5,427.8 L151.5,426.2 L150.5,424.5 L149.5,422.6 L148.5,420.7 L147.5,418.9 L146.5,417.1 L145.5,415.3 L144.5,413.5 L143.5,411.7 L142.5,409.9 L141.5,408.1 L140.5,406.1 L139.5,403.6 L138.5,398.0Z M156.5,431.1 L157.5,429.2 L158.5,430.6 L159.5,431.9 L160.5,429.9 L161.5,427.8 L162.5,425.8 L163.5,423.8 L164.5,421.8 L165.5,419.9 L166.5,418.5 L167.5,420.2 L167.5,420.2 L166.5,425.8 L165.5,428.3 L164.5,430.4 L163.5,432.4 L162.5,434.3 L161.5,436.3 L160.5,438.2 L159.5,440.2 L158.5,439.4 L157.5,436.9 L156.5,431.1Z M168.5,418.2 L169.5,412.6 L170.5,410.0 L171.5,407.8 L172.5,405.8 L173.5,403.8 L174.5,401.9 L175.5,399.9 L176.5,398.0 L177.5,396.2 L178.5,394.5 L179.5,392.9 L180.5,392.3 L181.5,395.1 L181.5,395.1 L180.5,400.2 L179.5,402.1 L178.5,404.0 L177.5,405.7 L176.5,407.4 L175.5,409.3 L174.5,411.1 L173.5,413.0 L172.5,414.9 L171.5,416.7 L170.5,418.5 L169.5,419.7 L168.5,418.2Z M183.5,393.8 L184.5,389.8 L185.5,388.5 L186.5,387.8 L187.5,387.4 L188.5,387.2 L189.5,387.1 L190.5,387.0 L191.5,387.0 L192.5,386.9 L193.5,386.9 L194.5,386.8 L195.5,386.8 L196.5,386.8 L197.5,386.7 L198.5,386.7 L199.5,386.7 L200.5,386.7 L201.5,386.8 L202.5,387.0 L203.5,387.5 L204.5,388.4 L205.5,391.8 L205.5,391.8 L204.5,395.3 L203.5,396.2 L202.5,396.7 L201.5,397.0 L200.5,397.1 L199.5,397.2 L198.5,397.3 L197.5,397.3 L196.5,397.4 L195.5,397.4 L194.5,397.5 L193.5,397.5 L192.5,397.5 L191.5,397.6 L190.5,397.7 L189.5,397.7 L188.5,397.8 L187.5,397.7 L186.5,397.7 L185.5,397.5 L184.5,396.9 L183.5,393.8Z M207.5,391.8 L208.5,388.4 L209.5,387.4 L210.5,386.9 L211.5,386.7 L212.5,386.5 L213.5,386.5 L214.5,386.4 L215.5,386.4 L216.5,386.4 L217.5,386.4 L218.5,386.4 L219.5,386.4 L220.5,386.4 L221.5,386.3 L222.5,386.3 L223.5,386.3 L224.5,386.3 L225.5,386.4 L226.5,386.5 L227.5,386.7 L228.5,387.2 L229.5,388.1 L230.5,391.3 L230.5,391.3 L229.5,394.7 L228.5,395.6 L227.5,396.1 L226.5,396.3 L225.5,396.5 L224.5,396.5 L223.5,396.6 L222.5,396.6 L221.5,396.6 L220.5,396.7 L219.5,396.7 L218.5,396.7 L217.5,396.7 L216.5,396.8 L215.5,396.8 L214.5,396.8 L213.5,396.8 L212.5,396.8 L211.5,396.7 L210.5,396.5 L209.5,396.0 L208.5,395.1 L207.5,391.8Z M231.5,391.3 L232.5,387.8 L233.5,386.9 L234.5,386.5 L235.5,386.3 L236.5,386.2 L237.5,386.2 L238.5,386.2 L239.5,386.2 L240.5,386.1 L241.5,386.1 L242.5,386.1 L243.5,386.1 L244.5,386.1 L245.5,386.1 L246.5,386.1 L247.5,386.2 L248.5,386.4 L249.5,386.7 L250.5,387.6 L251.5,391.0 L251.5,391.0 L250.5,394.4 L249.5,395.3 L248.5,395.8 L247.5,396.0 L246.5,396.1 L245.5,396.1 L244.5,396.1 L243.5,396.2 L242.5,396.2 L241.5,396.2 L240.5,396.2 L239.5,396.3 L238.5,396.3 L237.5,396.3 L236.5,396.3 L235.5,396.2 L234.5,396.1 L233.5,395.7 L232.5,394.8 L231.5,391.3Z M74.5,397.2 L75.5,393.9 L76.5,393.0 L77.5,392.6 L78.5,392.5 L79.5,392.4 L80.5,392.4 L81.5,392.5 L82.5,392.5 L83.5,392.6 L84.5,392.6 L85.5,392.7 L86.5,392.8 L87.5,392.8 L88.5,392.9 L89.5,393.0 L90.5,393.1 L91.5,393.2 L92.5,393.3 L93.5,393.6 L94.5,394.2 L95.5,395.2 L96.5,398.8 L96.5,398.8 L95.5,402.2 L94.5,403.0 L93.5,403.4 L92.5,403.5 L91.5,403.6 L90.5,403.5 L89.5,403.5 L88.5,403.4 L87.5,403.3 L86.5,403.2 L85.5,403.1 L84.5,403.1 L83.5,403.0 L82.5,402.9 L81.5,402.9 L80.5,402.8 L79.5,402.7 L78.5,402.5 L77.5,402.2 L76.5,401.7 L75.5,400.7 L74.5,397.2Z M98.5,399.0 L99.5,395.4 L100.5,394.5 L101.5,394.2 L102.5,394.1 L103.5,394.2 L104.5,394.3 L105.5,394.4 L106.5,394.5 L107.5,394.6 L108.5,394.7 L109.5,394.9 L110.5,395.0 L111.5,395.2 L112.5,395.4 L113.5,395.6 L114.5,395.9 L115.5,396.5 L116.5,397.6 L117.5,401.6 L117.5,401.6 L116.5,405.3 L115.5,406.1 L114.5,406.4 L113.5,406.4 L112.5,406.3 L111.5,406.2 L110.5,406.0 L109.5,405.8 L108.5,405.6 L107.5,405.5 L106.5,405.3 L105.5,405.2 L104.5,405.0 L103.5,404.9 L102.5,404.7 L101.5,404.3 L100.5,403.8 L99.5,402.8 L98.5,399.0Z M118.5,401.8 L119.5,398.1 L120.5,397.3 L121.5,397.0 L122.5,397.0 L123.5,397.0 L124.5,397.2 L125.5,397.3 L126.5,397.4 L127.5,397.6 L128.5,397.8 L129.5,398.0 L130.5,398.2 L131.5,398.5 L132.5,398.9 L133.5,399.3 L134.5,400.0 L135.5,401.0 L136.5,402.5 L137.5,404.6 L138.5,409.9 L138.5,409.9 L137.5,412.2 L136.5,411.9 L135.5,411.0 L134.5,410.3 L133.5,409.8 L132.5,409.4 L131.5,409.1 L130.5,408.8 L129.5,408.6 L128.5,408.4 L127.5,408.3 L126.5,408.2 L125.5,408.1 L124.5,408.0 L123.5,407.9 L122.5,407.7 L121.5,407.3 L120.5,406.8 L119.5,405.7 L118.5,401.8Z M140.5,413.0 L141.5,410.4 L142.5,411.2 L143.5,412.6 L144.5,414.2 L145.5,416.0 L146.5,417.8 L147.5,419.6 L148.5,421.4 L149.5,423.3 L150.5,425.2 L151.5,427.1 L152.5,429.0 L153.5,431.0 L154.5,433.2 L155.5,435.8 L156.5,441.1 L156.5,441.1 L155.5,442.9 L154.5,441.9 L153.5,440.5 L152.5,438.9 L151.5,437.2 L150.5,435.5 L149.5,433.7 L148.5,432.0 L147.5,430.3 L146.5,428.6 L145.5,426.9 L144.5,425.2 L143.5,423.4 L142.5,421.4 L141.5,418.8 L140.5,413.0Z M158.5,444.8 L159.5,442.0 L160.5,439.3 L161.5,437.1 L162.5,435.1 L163.5,433.1 L164.5,431.1 L165.5,429.2 L166.5,427.2 L167.5,425.3 L168.5,423.3 L169.5,421.3 L170.5,419.5 L171.5,417.6 L172.5,416.0 L173.5,414.9 L174.5,416.4 L174.5,416.4 L173.5,421.7 L172.5,424.3 L171.5,426.4 L170.5,428.4 L169.5,430.2 L168.5,432.1 L167.5,434.0 L166.5,435.9 L165.5,437.8 L164.5,439.7 L163.5,441.6 L162.5,443.5 L161.5,445.3 L160.5,446.9 L159.5,448.1 L158.5,444.8Z M175.5,414.6 L176.5,409.5 L177.5,406.9 L178.5,404.9 L179.5,403.2 L180.5,402.0 L181.5,401.0 L182.5,400.3 L183.5,399.8 L184.5,399.4 L185.5,399.1 L186.5,398.8 L187.5,398.6 L188.5,398.6 L189.5,398.5 L190.5,398.6 L191.5,398.9 L192.5,399.8 L193.5,403.5 L193.5,403.5 L192.5,407.4 L191.5,408.4 L190.5,408.8 L189.5,409.1 L188.5,409.2 L187.5,409.3 L186.5,409.5 L185.5,409.8 L184.5,410.1 L183.5,410.4 L182.5,410.8 L181.5,411.3 L180.5,411.9 L179.5,412.8 L178.5,414.1 L177.5,415.3 L176.5,416.2 L175.5,414.6Z M195.5,403.4 L196.5,399.9 L197.5,398.9 L198.5,398.4 L199.5,398.1 L200.5,398.0 L201.5,397.9 L202.5,397.8 L203.5,397.8 L204.5,397.8 L205.5,397.8 L206.5,397.7 L207.5,397.7 L208.5,397.7 L209.5,397.6 L210.5,397.6 L211.5,397.6 L212.5,397.6 L213.5,397.7 L214.5,397.9 L215.5,398.3 L216.5,399.2 L217.5,402.6 L217.5,402.6 L216.5,406.0 L215.5,407.0 L214.5,407.5 L213.5,407.7 L212.5,407.9 L211.5,408.0 L210.5,408.0 L209.5,408.1 L208.5,408.1 L207.5,408.2 L206.5,408.2 L205.5,408.2 L204.5,408.3 L203.5,408.3 L202.5,408.3 L201.5,408.4 L200.5,408.4 L199.5,408.3 L198.5,408.1 L197.5,407.7 L196.5,406.9 L195.5,403.4Z M218.5,402.6 L219.5,398.8 L220.5,397.9 L221.5,397.5 L222.5,397.4 L223.5,397.3 L224.5,397.3 L225.5,397.3 L226.5,397.2 L227.5,397.2 L228.5,397.2 L229.5,397.2 L230.5,397.2 L231.5,397.2 L232.5,397.3 L233.5,397.6 L234.5,398.4 L235.5,402.1 L235.5,402.1 L234.5,405.8 L233.5,406.7 L232.5,407.1 L231.5,407.3 L230.5,407.3 L229.5,407.4 L228.5,407.4 L227.5,407.4 L226.5,407.5 L225.5,407.5 L224.5,407.5 L223.5,407.6 L222.5,407.5 L221.5,407.4 L220.5,407.1 L219.5,406.3 L218.5,402.6Z M237.5,402.1 L238.5,398.1 L239.5,397.3 L240.5,397.0 L241.5,396.9 L242.5,396.9 L243.5,396.9 L244.5,396.8 L245.5,396.8 L246.5,396.8 L247.5,396.8 L248.5,396.8 L249.5,397.1 L250.5,397.8 L251.5,401.7 L251.5,401.7 L250.5,405.6 L249.5,406.4 L248.5,406.7 L247.5,406.8 L246.5,406.8 L245.5,406.9 L244.5,406.9 L243.5,406.9 L242.5,407.0 L241.5,407.0 L240.5,406.9 L239.5,406.7 L238.5,406.0 L237.5,402.1Z" fill="#f7c2bd"/>
<path d="M77.5,375.7l4,-0.6 M95.5,376.5l4,-0.6 M114.5,378.3l4,-0.6 M134.5,384.2l4,-0.6 M150.5,412.9l4,-0.6 M163.5,415.0l4,-0.6 M177.5,387.4l4,-0.6 M194.5,381.1l4,-0.6 M216.5,380.8l4,-0.6 M237.5,380.7l4,-0.6 M79.5,386.9l4,-0.6 M100.5,388.3l4,-0.6 M123.5,391.5l4,-0.6 M144.5,412.0l4,-0.6 M160.5,430.4l4,-0.6 M173.5,404.9l4,-0.6 M192.5,392.4l4,-0.6 M217.5,391.8l4,-0.6 M239.5,391.5l4,-0.6 M83.5,398.2l4,-0.6 M106.5,400.5l4,-0.6 M126.5,403.4l4,-0.6 M146.5,427.0l4,-0.6 M164.5,431.9l4,-0.6 M182.5,405.0l4,-0.6 M204.5,403.3l4,-0.6 M225.5,402.6l4,-0.6 M242.5,402.2l4,-0.6" fill="none" stroke="#fbd8d2" stroke-width="1" stroke-linecap="round"/>
<path d="M71.0,352.5 L98.6,352.5 L111.4,352.6 L118.8,352.7 L123.8,352.9 L126.2,353.1 L128.7,353.8 L131.1,355.0 L133.4,356.7 L135.6,358.8 L138.0,361.5 L140.5,364.8 L143.1,368.8 L145.9,373.2 L148.6,377.7 L151.2,382.0 L154.4,387.2 L160.0,396.5 L165.1,387.2 L167.9,382.1 L170.1,378.0 L172.4,374.0 L174.6,370.0 L176.6,366.6 L178.4,363.8 L179.9,361.6 L181.1,359.9 L182.4,358.6 L183.6,357.6 L184.9,356.9 L186.1,356.6 L191.1,356.3 L199.7,356.1 L216.0,356.0 L252.0,356.0 L252.0,375.0 L217.1,375.0 L201.2,375.1 L192.8,375.2 L187.8,375.4 L186.2,375.6 L184.9,376.1 L183.6,376.7 L182.5,377.5 L181.5,378.5 L179.5,381.9 L176.4,387.7 L171.0,398.6 L159.5,422.5 L148.5,398.6 L143.2,387.7 L139.7,381.8 L137.0,378.3 L135.0,377.2 L132.9,376.2 L130.6,375.3 L128.2,374.6 L125.8,373.9 L123.1,373.3 L120.4,372.8 L117.5,372.2 L114.5,371.8 L109.8,371.3 L103.4,370.8 L92.9,370.3 L71.0,369.5Z" fill="#f9e1a6"/>
<path d="M78.5,355.4 L80.5,355.4 L82.5,355.4 L84.5,355.4 L86.5,355.4 L88.5,355.4 L90.5,355.5 L92.5,355.5 L94.5,355.5 L96.5,355.5 L98.5,355.5 L100.5,355.5 M103.5,355.6 L105.5,355.6 L107.5,355.6 L109.5,355.7 L111.5,355.7 L113.5,355.8 L115.5,355.8 L117.5,355.9 L119.5,356.0 L121.5,356.2 L123.5,356.3 L125.5,356.5 L127.5,357.0 M132.5,359.4 L134.5,361.0 L136.5,362.9 L138.5,365.2 L140.5,367.9 L142.5,370.9 L144.5,374.2 L146.5,377.6 L148.5,381.0 L150.5,384.5 L152.5,388.0 L154.5,391.5 L156.5,394.9 L158.5,398.4 M163.5,394.1 L165.5,390.4 L167.5,386.6 L169.5,382.9 L171.5,379.2 L173.5,375.6 L175.5,372.0 L177.5,368.6 L179.5,365.4 L181.5,362.7 L183.5,360.9 L185.5,359.9 M189.5,359.5 L191.5,359.4 L193.5,359.4 L195.5,359.3 L197.5,359.3 L199.5,359.3 L201.5,359.2 L203.5,359.2 L205.5,359.2 L207.5,359.2 L209.5,359.2 L211.5,359.2 L213.5,359.2 L215.5,359.2 L217.5,359.2 M222.5,359.2 L224.5,359.2 L226.5,359.2 L228.5,359.2 L230.5,359.2 L232.5,359.2 L234.5,359.2 L236.5,359.2 L238.5,359.2 L240.5,359.2 L242.5,359.2 M247.5,359.2 L249.5,359.2 M78.5,358.3 L80.5,358.3 L82.5,358.3 L84.5,358.3 L86.5,358.4 L88.5,358.4 L90.5,358.4 L92.5,358.4 L94.5,358.5 L96.5,358.5 L98.5,358.5 L100.5,358.6 L102.5,358.6 L104.5,358.7 L106.5,358.7 L108.5,358.8 L110.5,358.8 M115.5,359.1 L117.5,359.2 L119.5,359.3 L121.5,359.5 L123.5,359.7 L125.5,360.0 L127.5,360.5 L129.5,361.2 L131.5,362.1 L133.5,363.4 L135.5,365.0 M139.5,369.5 L141.5,372.5 L143.5,375.7 L145.5,379.2 L147.5,382.8 L149.5,386.4 L151.5,390.0 L153.5,393.7 L155.5,397.3 L157.5,401.0 L159.5,404.6 L161.5,402.0 L163.5,398.1 M168.5,388.6 L170.5,384.8 L172.5,381.1 L174.5,377.3 L176.5,373.7 L178.5,370.3 L180.5,367.2 L182.5,364.8 L184.5,363.5 L186.5,362.9 L188.5,362.7 L190.5,362.6 L192.5,362.6 L194.5,362.5 L196.5,362.5 M201.5,362.4 L203.5,362.4 L205.5,362.4 L207.5,362.4 L209.5,362.4 L211.5,362.4 L213.5,362.3 L215.5,362.3 L217.5,362.3 L219.5,362.3 L221.5,362.3 L223.5,362.3 L225.5,362.3 L227.5,362.3 L229.5,362.3 L231.5,362.3 M235.5,362.3 L237.5,362.3 L239.5,362.3 L241.5,362.3 L243.5,362.3 L245.5,362.3 L247.5,362.3 L249.5,362.3 M76.5,361.1 L78.5,361.1 L80.5,361.2 L82.5,361.2 L84.5,361.3 L86.5,361.3 L88.5,361.3 L90.5,361.4 L92.5,361.4 L94.5,361.5 L96.5,361.5 L98.5,361.6 M102.5,361.7 L104.5,361.7 L106.5,361.8 L108.5,361.9 L110.5,362.0 L112.5,362.1 L114.5,362.2 L116.5,362.4 L118.5,362.6 L120.5,362.8 L122.5,363.0 L124.5,363.3 L126.5,363.7 M131.5,365.5 L133.5,366.6 L135.5,368.1 L137.5,370.0 L139.5,372.5 L141.5,375.6 L143.5,378.9 L145.5,382.5 M150.5,391.9 L152.5,395.7 L154.5,399.5 L156.5,403.3 L158.5,407.2 L160.5,408.0 L162.5,404.1 L164.5,400.2 L166.5,396.3 L168.5,392.4 L170.5,388.5 L172.5,384.7 L174.5,380.9 L176.5,377.2 L178.5,373.7 L180.5,370.5 M185.5,366.3 L187.5,366.0 L189.5,365.8 L191.5,365.8 L193.5,365.7 L195.5,365.7 L197.5,365.6 L199.5,365.6 L201.5,365.6 L203.5,365.6 L205.5,365.6 L207.5,365.5 L209.5,365.5 L211.5,365.5 L213.5,365.5 M218.5,365.5 L220.5,365.5 L222.5,365.5 L224.5,365.5 L226.5,365.5 L228.5,365.5 L230.5,365.5 L232.5,365.5 L234.5,365.5 L236.5,365.5 L238.5,365.5 L240.5,365.5 L242.5,365.5 M246.5,365.5 L248.5,365.5 L250.5,365.5 M79.5,364.1 L81.5,364.1 L83.5,364.2 L85.5,364.2 L87.5,364.3 L89.5,364.3 L91.5,364.4 L93.5,364.4 L95.5,364.5 L97.5,364.5 L99.5,364.6 L101.5,364.7 L103.5,364.7 M107.5,364.9 L109.5,365.0 L111.5,365.2 L113.5,365.3 L115.5,365.5 L117.5,365.7 L119.5,366.0 L121.5,366.3 L123.5,366.6 L125.5,366.9 L127.5,367.4 L129.5,368.1 L131.5,368.9 M135.5,371.2 L137.5,373.0 L139.5,375.5 L141.5,378.7 L143.5,382.0 L145.5,385.8 L147.5,389.6 L149.5,393.5 L151.5,397.5 L153.5,401.5 L155.5,405.5 M160.5,412.1 L162.5,408.2 L164.5,404.2 L166.5,400.2 L168.5,396.2 L170.5,392.2 L172.5,388.3 L174.5,384.5 L176.5,380.6 L178.5,377.0 L180.5,373.7 L182.5,371.2 L184.5,369.9 M188.5,369.0 L190.5,369.0 L192.5,368.9 L194.5,368.8 L196.5,368.8 L198.5,368.8 L200.5,368.7 L202.5,368.7 L204.5,368.7 L206.5,368.7 L208.5,368.7 L210.5,368.7 L212.5,368.7 L214.5,368.7 M218.5,368.7 L220.5,368.7 L222.5,368.7 L224.5,368.7 L226.5,368.7 L228.5,368.7 L230.5,368.7 L232.5,368.7 M235.5,368.7 L237.5,368.7 L239.5,368.7 L241.5,368.7 L243.5,368.7 L245.5,368.7 L247.5,368.7 L249.5,368.7 M79.5,366.9 L81.5,367.0 L83.5,367.1 L85.5,367.1 L87.5,367.2 L89.5,367.3 L91.5,367.3 L93.5,367.4 L95.5,367.5 L97.5,367.6 L99.5,367.6 L101.5,367.7 L103.5,367.8 L105.5,367.9 L107.5,368.0 M113.5,368.5 L115.5,368.7 L117.5,369.0 L119.5,369.3 L121.5,369.6 L123.5,370.0 L125.5,370.4 L127.5,370.9 L129.5,371.5 L131.5,372.3 L133.5,373.2 L135.5,374.3 L137.5,376.0 L139.5,378.5 L141.5,381.8 L143.5,385.2 M146.5,391.1 L148.5,395.0 L150.5,399.2 L152.5,403.4 L154.5,407.6 L156.5,411.8 L158.5,415.9 L160.5,416.3 L162.5,412.2 L164.5,408.2 L166.5,404.1 L168.5,400.0 L170.5,396.0 L172.5,392.0 L174.5,388.0 L176.5,384.1 M181.5,375.3 L183.5,373.6 L185.5,372.7 L187.5,372.3 L189.5,372.2 L191.5,372.1 L193.5,372.0 L195.5,372.0 M199.5,371.9 L201.5,371.9 L203.5,371.9 L205.5,371.9 L207.5,371.9 L209.5,371.9 L211.5,371.9 L213.5,371.8 M218.5,371.8 L220.5,371.8 L222.5,371.8 L224.5,371.8 L226.5,371.8 L228.5,371.8 L230.5,371.8 L232.5,371.8 L234.5,371.8 L236.5,371.8 M239.5,371.8 L241.5,371.8 L243.5,371.8 L245.5,371.8 L247.5,371.8 L249.5,371.8" fill="none" stroke="#f0cd88" stroke-width="0.8"/>
<path d="M71.0,369.5 L92.9,370.3 L103.4,370.8 L109.8,371.3 L114.5,371.8 L117.5,372.2 L120.4,372.8 L123.1,373.3 L125.8,373.9 L128.2,374.6 L130.6,375.3 L132.9,376.2 L135.0,377.2 L137.0,378.3 L139.7,381.8 L143.2,387.7 L148.5,398.6 L159.5,422.5 L171.0,398.6 L176.4,387.7 L179.5,381.9 L181.5,378.5 L182.5,377.5 L183.6,376.7 L184.9,376.1 L186.2,375.6 L187.8,375.4 L192.8,375.2 L201.2,375.1 L217.1,375.0 L252.0,375.0" fill="none" stroke="#f3b9a0" stroke-width="1"/>
<path d="M71.0,345.8 L99.7,345.8 L112.9,345.8 L120.3,345.9 L125.0,346.1 L127.0,346.2 L128.9,346.6 L130.8,347.3 L132.6,348.2 L134.4,349.3 L136.2,350.8 L138.1,352.7 L140.0,354.9 L142.0,357.6 L144.0,360.2 L146.0,363.0 L148.0,365.8 L150.0,368.7 L152.0,371.7 L153.9,374.9 L156.3,379.1 L160.5,387.0 L164.2,379.1 L166.3,374.6 L168.3,370.7 L170.4,366.6 L172.6,362.4 L174.6,358.8 L176.4,356.0 L177.9,353.9 L179.1,352.6 L180.4,351.4 L181.6,350.5 L182.9,349.9 L184.1,349.4 L189.2,349.1 L198.1,348.8 L214.9,348.6 L252.0,348.4 L252.0,356.0 L216.0,356.0 L199.7,356.1 L191.1,356.3 L186.1,356.6 L184.9,356.9 L183.6,357.6 L182.4,358.6 L181.1,359.9 L179.9,361.6 L178.4,363.8 L176.6,366.6 L174.6,370.0 L172.4,374.0 L170.1,378.0 L167.9,382.1 L165.1,387.2 L160.0,396.5 L154.4,387.2 L151.2,382.0 L148.6,377.7 L145.9,373.2 L143.1,368.8 L140.5,364.8 L138.0,361.5 L135.6,358.8 L133.4,356.7 L131.1,355.0 L128.7,353.8 L126.2,353.1 L123.8,352.9 L118.8,352.7 L111.4,352.6 L98.6,352.5 L71.0,352.5Z" fill="#f6c2a4"/>
<path d="M71.5,348.0 L73.5,348.0 L75.5,348.0 L77.5,348.0 L79.5,348.0 L81.5,348.0 L83.5,348.0 L85.5,348.0 L87.5,348.0 L89.5,348.0 L91.5,348.0 L93.5,348.0 L95.5,348.0 L97.5,348.0 L99.5,348.0 L101.5,348.0 L103.5,348.0 L105.5,348.1 L107.5,348.1 L109.5,348.1 L111.5,348.1 L113.5,348.1 L115.5,348.1 L117.5,348.2 L119.5,348.2 L121.5,348.2 L123.5,348.3 L125.5,348.4 L127.5,348.7 L129.5,349.3 L131.5,350.2 L133.5,351.4 L135.5,353.1 L137.5,355.1 L139.5,357.4 L141.5,360.0 L143.5,362.8 L145.5,365.8 L147.5,368.7 L149.5,371.7 L151.5,374.8 L153.5,378.1 L155.5,381.5 L157.5,385.1 L159.5,388.6 L161.5,387.8 L163.5,383.7 L165.5,379.7 L167.5,375.8 L169.5,371.9 L171.5,368.2 L173.5,364.6 L175.5,361.1 L177.5,358.0 L179.5,355.5 L181.5,353.6 L183.5,352.3 L185.5,351.8 L187.5,351.6 L189.5,351.5 L191.5,351.4 L193.5,351.4 L195.5,351.3 L197.5,351.3 L199.5,351.2 L201.5,351.2 L203.5,351.2 L205.5,351.2 L207.5,351.2 L209.5,351.1 L211.5,351.1 L213.5,351.1 L215.5,351.1 L217.5,351.1 L219.5,351.1 L221.5,351.1 L223.5,351.0 L225.5,351.0 L227.5,351.0 L229.5,351.0 L231.5,351.0 L233.5,351.0 L235.5,351.0 L237.5,351.0 L239.5,351.0 L241.5,351.0 L243.5,351.0 L245.5,351.0 L247.5,351.0 L249.5,350.9 L251.5,350.9 M71.5,350.3 L73.5,350.3 L75.5,350.3 L77.5,350.3 L79.5,350.3 L81.5,350.3 L83.5,350.3 L85.5,350.3 L87.5,350.3 L89.5,350.3 L91.5,350.3 L93.5,350.3 L95.5,350.3 L97.5,350.3 L99.5,350.3 L101.5,350.3 L103.5,350.3 L105.5,350.3 L107.5,350.3 L109.5,350.3 L111.5,350.3 L113.5,350.3 L115.5,350.4 L117.5,350.4 L119.5,350.4 L121.5,350.5 L123.5,350.6 L125.5,350.7 L127.5,351.1 L129.5,351.8 L131.5,352.8 L133.5,354.1 L135.5,355.9 L137.5,358.0 L139.5,360.5 L141.5,363.2 L143.5,366.1 L145.5,369.2 L147.5,372.3 L149.5,375.5 L151.5,378.7 L153.5,381.9 L155.5,385.3 L157.5,388.7 L159.5,392.2 L161.5,390.8 L163.5,386.9 L165.5,383.1 L167.5,379.3 L169.5,375.5 L171.5,371.9 L173.5,368.3 L175.5,364.8 L177.5,361.6 L179.5,358.8 L181.5,356.6 L183.5,355.0 L185.5,354.3 L187.5,354.1 L189.5,353.9 L191.5,353.9 L193.5,353.8 L195.5,353.8 L197.5,353.7 L199.5,353.7 L201.5,353.7 L203.5,353.6 L205.5,353.6 L207.5,353.6 L209.5,353.6 L211.5,353.6 L213.5,353.6 L215.5,353.5 L217.5,353.5 L219.5,353.5 L221.5,353.5 L223.5,353.5 L225.5,353.5 L227.5,353.5 L229.5,353.5 L231.5,353.5 L233.5,353.5 L235.5,353.5 L237.5,353.5 L239.5,353.5 L241.5,353.5 L243.5,353.5 L245.5,353.5 L247.5,353.5 L249.5,353.5 L251.5,353.5" fill="none" stroke="#eba688" stroke-width="0.8"/>
<path d="M71.0,352.5 L98.6,352.5 L111.4,352.6 L118.8,352.7 L123.8,352.9 L126.2,353.1 L128.7,353.8 L131.1,355.0 L133.4,356.7 L135.6,358.8 L138.0,361.5 L140.5,364.8 L143.1,368.8 L145.9,373.2 L148.6,377.7 L151.2,382.0 L154.4,387.2 L160.0,396.5 L165.1,387.2 L167.9,382.1 L170.1,378.0 L172.4,374.0 L174.6,370.0 L176.6,366.6 L178.4,363.8 L179.9,361.6 L181.1,359.9 L182.4,358.6 L183.6,357.6 L184.9,356.9 L186.1,356.6 L191.1,356.3 L199.7,356.1 L216.0,356.0 L252.0,356.0" fill="none" stroke="#eeb48c" stroke-width="0.9"/>
<path d="M71.0,345.8 L99.7,345.8 L112.9,345.8 L120.3,345.9 L125.0,346.1 L127.0,346.2 L128.9,346.6 L130.8,347.3 L132.6,348.2 L134.4,349.3 L136.2,350.8 L138.1,352.7 L140.0,354.9 L142.0,357.6 L144.0,360.2 L146.0,363.0 L148.0,365.8 L150.0,368.7 L152.0,371.7 L153.9,374.9 L156.3,379.1 L160.5,387.0 L164.2,379.1 L166.3,374.6 L168.3,370.7 L170.4,366.6 L172.6,362.4 L174.6,358.8 L176.4,356.0 L177.9,353.9 L179.1,352.6 L180.4,351.4 L181.6,350.5 L182.9,349.9 L184.1,349.4 L189.2,349.1 L198.1,348.8 L214.9,348.6 L252.0,348.4" fill="none" stroke="#d8946f" stroke-width="1.3"/>
</g>
<clipPath id="c2"><rect x="314" y="340" width="180" height="148"/></clipPath>
<g clip-path="url(#c2)">
<path d="M314.0,405.0 L334.2,405.8 L344.8,406.4 L352.4,406.8 L359.4,407.4 L365.6,407.9 L371.3,409.1 L376.5,410.8 L381.2,413.0 L385.3,415.8 L388.9,418.1 L392.1,419.8 L394.7,420.9 L396.8,421.6 L399.0,421.7 L401.3,421.4 L403.8,420.6 L406.2,419.4 L409.0,418.0 L412.0,416.6 L415.2,415.1 L418.8,413.4 L422.5,412.1 L426.4,411.1 L430.6,410.4 L434.9,410.0 L440.0,409.6 L445.8,409.2 L452.2,408.9 L459.3,408.5 L466.2,408.1 L472.9,407.7 L480.9,407.1 L495.0,406.0 L494.0,488.0 L314.0,488.0Z" fill="#fadcd1"/>
<rect x="314" y="473.0" width="180" height="15.0" fill="#f6bda3"/>
<path d="M318.0,419.1 Q330.7,446.1 338.0,473.0 M326.0,419.3 Q322.7,446.2 314.0,473.0 M334.0,419.6 Q340.3,446.3 352.0,473.0 M344.0,419.9 Q332.5,446.4 326.0,473.0 M352.0,420.2 Q364.0,446.6 372.0,473.0 M362.0,420.7 Q352.4,446.9 340.0,473.0 M372.0,422.0 Q383.0,447.5 392.0,473.0 M384.0,427.5 Q371.8,450.2 362.0,473.0 M396.0,433.6 Q407.6,453.3 418.0,473.0 M406.0,429.8 Q395.6,451.4 384.0,473.0 M416.0,424.8 Q426.5,448.9 436.0,473.0 M426.0,421.3 Q413.0,447.2 404.0,473.0 M436.0,420.3 Q446.6,446.7 458.0,473.0 M446.0,420.0 Q434.4,446.5 424.0,473.0 M456.0,419.7 Q467.3,446.4 476.0,473.0 M466.0,419.5 Q458.0,446.3 444.0,473.0 M476.0,419.2 Q486.7,446.1 492.0,473.0 M486.0,418.9 Q475.3,445.9 464.0,473.0 M492.0,418.6 Q485.7,445.8 480.0,473.0 M340.0,419.7 Q346.6,446.4 356.0,473.0 M420.0,423.0 Q407.2,448.0 400.0,473.0 M470.0,419.4 Q474.2,446.2 484.0,473.0" fill="none" stroke="#c9938c" stroke-width="1.25"/>
<path d="M321.4,431.4l3.2,2.4M321.4,433.8l3.2,-2.4 M330.1,454.9l3.2,2.4M330.1,457.3l3.2,-2.4 M337.4,433.3l3.2,2.4M337.4,435.7l3.2,-2.4 M345.1,456.0l3.2,2.4M345.1,458.4l3.2,-2.4 M340.3,424.9l3.2,2.4M340.3,427.3l3.2,-2.4 M355.2,431.8l3.2,2.4M355.2,434.2l3.2,-2.4 M366.0,460.2l3.2,2.4M366.0,462.6l3.2,-2.4 M347.7,449.6l3.2,2.4M347.7,452.0l3.2,-2.4 M377.0,437.5l3.2,2.4M377.0,439.9l3.2,-2.4 M386.9,462.9l3.2,2.4M386.9,465.3l3.2,-2.4 M398.6,440.0l3.2,2.4M398.6,442.4l3.2,-2.4 M408.5,457.6l3.2,2.4M408.5,460.0l3.2,-2.4 M405.9,453.0l3.2,2.4M405.9,455.4l3.2,-2.4 M418.6,433.7l3.2,2.4M418.6,436.1l3.2,-2.4 M428.4,457.3l3.2,2.4M428.4,459.7l3.2,-2.4 M416.1,427.6l3.2,2.4M416.1,430.0l3.2,-2.4 M439.3,431.0l3.2,2.4M439.3,433.4l3.2,-2.4 M449.3,454.9l3.2,2.4M449.3,457.3l3.2,-2.4 M459.1,431.1l3.2,2.4M459.1,433.5l3.2,-2.4 M468.6,456.5l3.2,2.4M468.6,458.9l3.2,-2.4 M478.6,432.0l3.2,2.4M478.6,434.4l3.2,-2.4 M483.5,448.6l3.2,2.4M483.5,451.0l3.2,-2.4 M474.6,441.8l3.2,2.4M474.6,444.2l3.2,-2.4 M480.2,463.5l3.2,2.4M480.2,465.9l3.2,-2.4" fill="none" stroke="#e0716d" stroke-width="1"/>
<path d="M327.06,428.89 L326.46,432.04 L329.59,432.73 L326.56,433.78 L327.53,436.84 L325.10,434.74 L322.94,437.11 L323.54,433.96 L320.41,433.27 L323.44,432.22 L322.47,429.16 L324.90,431.26Z M346.44,425.63 L346.30,428.84 L349.50,429.06 L346.66,430.55 L348.06,433.43 L345.36,431.71 L343.56,434.37 L343.70,431.16 L340.50,430.94 L343.34,429.45 L341.94,426.57 L344.64,428.29Z M338.71,460.73 L338.37,463.92 L341.55,464.34 L338.62,465.65 L339.85,468.61 L337.25,466.73 L335.29,469.27 L335.63,466.08 L332.45,465.66 L335.38,464.35 L334.15,461.39 L336.75,463.27Z M395.74,443.99 L393.80,446.72 L396.48,448.73 L393.15,448.42 L392.74,451.74 L391.34,448.70 L388.26,450.01 L390.20,447.28 L387.52,445.27 L390.85,445.58 L391.26,442.26 L392.66,445.30Z M418.51,458.68 L417.65,462.05 L421.00,463.01 L417.64,463.95 L418.49,467.34 L416.00,464.90 L413.49,467.32 L414.35,463.95 L411.00,462.99 L414.36,462.05 L413.51,458.66 L416.00,461.10Z M437.34,426.27 L436.48,429.22 L439.40,430.16 L436.42,430.89 L437.06,433.89 L434.94,431.67 L432.66,433.73 L433.52,430.78 L430.60,429.84 L433.58,429.11 L432.94,426.11 L435.06,428.33Z M457.08,422.53 L457.20,425.73 L460.41,425.70 L457.70,427.41 L459.34,430.17 L456.50,428.68 L454.92,431.47 L454.80,428.27 L451.59,428.30 L454.30,426.59 L452.66,423.83 L455.50,425.32Z" fill="#6f6bb6" stroke="#8f8cc8" stroke-width="0.4"/>
<g transform="translate(351,473.0) scale(0.8) translate(-351,-473.0)">
<path d="M343,473.0 C349,470.0 352,459.0 351,449.0 C350.5,441.0 347,435.0 344,432.0 M351.3,451.0 C354,443.0 355,437.0 354,430.0 M350.7,446.0 C348,442.0 344,441.0 341,442.0" fill="none" stroke="#2f4868" stroke-width="1.2" stroke-linecap="round"/>
<path d="M356,472.5 C360,467.0 360,457.0 361,449.0 C361.5,443.0 359,437.0 358,433.0 M361,453.0 C365,449.0 370,448.0 374,443.0 M361,445.0 C364,440.0 368,438.0 369,433.0 M368,448.5 C370,451.0 373,452.0 376,451.0" fill="none" stroke="#b4564f" stroke-width="1" stroke-linecap="round"/>
</g>
<g transform="translate(443,473.0) scale(0.8) translate(-443,-473.0)">
<path d="M435,473.0 C441,470.0 444,459.0 443,449.0 C442.5,441.0 439,435.0 436,432.0 M443.3,451.0 C446,443.0 447,437.0 446,430.0 M442.7,446.0 C440,442.0 436,441.0 433,442.0" fill="none" stroke="#2f4868" stroke-width="1.2" stroke-linecap="round"/>
<path d="M448,472.5 C452,467.0 452,457.0 453,449.0 C453.5,443.0 451,437.0 450,433.0 M453,453.0 C457,449.0 462,448.0 466,443.0 M453,445.0 C456,440.0 460,438.0 461,433.0 M460,448.5 C462,451.0 465,452.0 468,451.0" fill="none" stroke="#b4564f" stroke-width="1" stroke-linecap="round"/>
</g>
<path d="M314,471.8 C354,473.5 384,470.0 414,469.5 S464,472.0 494,469.0" fill="none" stroke="#d96a50" stroke-width="1.1"/>
<path d="M314,473.8 C364,475.2 434,473.5 494,471.8" fill="none" stroke="#3c4a72" stroke-width="1.5"/>
<path d="M314.0,405.0 L334.2,405.8 L344.8,406.4 L352.4,406.8 L359.4,407.4 L365.6,407.9 L371.3,409.1 L376.5,410.8 L381.2,413.0 L385.3,415.8 L388.9,418.1 L392.1,419.8 L394.7,420.9 L396.8,421.6 L399.0,421.7 L401.3,421.4 L403.8,420.6 L406.2,419.4 L409.0,418.0 L412.0,416.6 L415.2,415.1 L418.8,413.4 L422.5,412.1 L426.4,411.1 L430.6,410.4 L434.9,410.0 L440.0,409.6 L445.8,409.2 L452.2,408.9 L459.3,408.5 L466.2,408.1 L472.9,407.7 L480.9,407.1 L495.0,406.0 L495.0,418.5 L480.9,419.1 L472.9,419.3 L466.2,419.5 L459.3,419.7 L452.2,419.8 L445.8,420.0 L440.0,420.2 L434.9,420.4 L430.6,420.6 L426.4,421.2 L422.5,422.2 L418.8,423.4 L415.4,425.1 L412.0,426.8 L408.5,428.5 L405.1,430.3 L401.7,432.2 L398.5,433.3 L395.7,433.6 L393.2,433.1 L391.0,431.9 L388.6,430.4 L385.9,428.7 L383.0,426.8 L379.8,424.7 L375.8,423.0 L371.1,421.8 L365.6,420.9 L359.4,420.6 L352.4,420.2 L344.8,419.9 L334.2,419.6 L314.0,419.0Z" fill="#ffffff" stroke="#ffffff" stroke-width="1.2" stroke-linejoin="round"/>
<g transform="translate(320.0,412.2) rotate(2.0)"><rect x="-5.0" y="-5.3" width="10.0" height="10.5" rx="1.2" fill="#b9aecb"/><rect x="-1.9" y="-0.7" width="3.8" height="1.4" rx="0.7" fill="#716c98"/></g>
<g transform="translate(331.9,412.6) rotate(2.0)"><rect x="-5.6" y="-6.4" width="11.2" height="12.8" rx="1.2" fill="#36a6bf"/><rect x="-1.9" y="-0.7" width="3.8" height="1.4" rx="0.7" fill="#176a86"/></g>
<g transform="translate(343.6,413.0) rotate(2.0)"><rect x="-4.8" y="-5.1" width="9.7" height="10.2" rx="1.2" fill="#b9aecb"/><rect x="-1.9" y="-0.7" width="3.8" height="1.4" rx="0.7" fill="#716c98"/></g>
<g transform="translate(355.2,413.6) rotate(4.3)"><rect x="-4.7" y="-5.0" width="9.5" height="9.9" rx="1.2" fill="#b9aecb"/><rect x="-1.9" y="-0.7" width="3.8" height="1.4" rx="0.7" fill="#716c98"/></g>
<g transform="translate(366.5,414.5) rotate(4.3)"><rect x="-4.6" y="-4.8" width="9.2" height="9.6" rx="1.2" fill="#b9aecb"/><rect x="-1.9" y="-0.7" width="3.8" height="1.4" rx="0.7" fill="#716c98"/></g>
<g transform="translate(377.0,416.5) rotate(34.0)"><rect x="-4.4" y="-4.6" width="8.8" height="9.1" rx="1.2" fill="#b9aecb"/><rect x="-1.9" y="-0.7" width="3.8" height="1.4" rx="0.7" fill="#716c98"/></g>
<g transform="translate(385.7,422.3) rotate(34.0)"><rect x="-4.8" y="-5.4" width="9.6" height="10.8" rx="1.2" fill="#36a6bf"/><rect x="-1.9" y="-0.7" width="3.8" height="1.4" rx="0.7" fill="#176a86"/></g>
<g transform="translate(394.6,427.1) rotate(23.5)"><rect x="-4.1" y="-4.2" width="8.1" height="8.4" rx="1.2" fill="#b9aecb"/><rect x="-1.9" y="-0.7" width="3.8" height="1.4" rx="0.7" fill="#716c98"/></g>
<g transform="translate(403.6,425.9) rotate(-27.8)"><rect x="-4.1" y="-4.2" width="8.1" height="8.4" rx="1.2" fill="#b9aecb"/><rect x="-1.9" y="-0.7" width="3.8" height="1.4" rx="0.7" fill="#716c98"/></g>
<g transform="translate(412.6,421.4) rotate(-25.1)"><rect x="-3.9" y="-4.0" width="7.9" height="8.1" rx="1.2" fill="#b9aecb"/><rect x="-1.9" y="-0.7" width="3.8" height="1.4" rx="0.7" fill="#716c98"/></g>
<g transform="translate(421.5,417.2) rotate(-25.1)"><rect x="-3.9" y="-4.0" width="7.9" height="8.1" rx="1.2" fill="#b9aecb"/><rect x="-1.9" y="-0.7" width="3.8" height="1.4" rx="0.7" fill="#716c98"/></g>
<g transform="translate(431.1,415.5) rotate(-4.2)"><rect x="-3.9" y="-4.0" width="7.9" height="8.1" rx="1.2" fill="#b9aecb"/><rect x="-1.9" y="-0.7" width="3.8" height="1.4" rx="0.7" fill="#716c98"/></g>
<g transform="translate(441.0,414.7) rotate(-3.5)"><rect x="-3.9" y="-4.0" width="7.9" height="8.1" rx="1.2" fill="#b9aecb"/><rect x="-1.9" y="-0.7" width="3.8" height="1.4" rx="0.7" fill="#716c98"/></g>
<g transform="translate(450.9,414.4) rotate(-1.9)"><rect x="-4.6" y="-5.2" width="9.3" height="10.5" rx="1.2" fill="#36a6bf"/><rect x="-1.9" y="-0.7" width="3.8" height="1.4" rx="0.7" fill="#176a86"/></g>
<g transform="translate(460.8,414.1) rotate(-1.9)"><rect x="-3.9" y="-4.0" width="7.9" height="8.1" rx="1.2" fill="#b9aecb"/><rect x="-1.9" y="-0.7" width="3.8" height="1.4" rx="0.7" fill="#716c98"/></g>
<g transform="translate(470.6,413.7) rotate(-3.0)"><rect x="-4.0" y="-4.1" width="7.9" height="8.1" rx="1.2" fill="#b9aecb"/><rect x="-1.9" y="-0.7" width="3.8" height="1.4" rx="0.7" fill="#716c98"/></g>
<g transform="translate(480.7,413.1) rotate(-3.4)"><rect x="-4.1" y="-4.3" width="8.3" height="8.5" rx="1.2" fill="#b9aecb"/><rect x="-1.9" y="-0.7" width="3.8" height="1.4" rx="0.7" fill="#716c98"/></g>
<g transform="translate(491.1,412.5) rotate(-3.4)"><rect x="-4.3" y="-4.5" width="8.6" height="8.9" rx="1.2" fill="#b9aecb"/><rect x="-1.9" y="-0.7" width="3.8" height="1.4" rx="0.7" fill="#716c98"/></g>
<path d="M314.0,372.0 L339.9,372.8 L352.0,373.3 L359.0,373.8 L363.8,374.2 L366.2,374.8 L370.1,376.3 L375.3,379.0 L383.8,384.0 L401.5,395.0 L418.7,384.9 L426.8,380.2 L431.6,377.8 L435.0,376.2 L437.0,375.8 L441.9,375.3 L449.8,374.9 L464.1,374.6 L495.0,374.0 L495.0,406.0 L480.9,407.1 L472.9,407.7 L466.2,408.1 L459.3,408.5 L452.2,408.9 L445.8,409.2 L440.0,409.6 L434.9,410.0 L430.6,410.4 L426.4,411.1 L422.5,412.1 L418.8,413.4 L415.2,415.1 L412.0,416.6 L409.0,418.0 L406.2,419.4 L403.8,420.6 L401.3,421.4 L399.0,421.7 L396.8,421.6 L394.7,420.9 L392.1,419.8 L388.9,418.1 L385.3,415.8 L381.2,413.0 L376.5,410.8 L371.3,409.1 L365.6,407.9 L359.4,407.4 L352.4,406.8 L344.8,406.4 L334.2,405.8 L314.0,405.0Z" fill="#e5938f"/>
<path d="M314.0,377.5 L315.0,374.0 L316.0,373.1 L317.0,372.8 L318.0,372.6 L319.0,372.6 L320.0,372.6 L321.0,372.6 L322.0,372.6 L323.0,372.6 L324.0,372.7 L325.0,372.7 L326.0,372.7 L327.0,372.8 L328.0,372.8 L329.0,372.9 L330.0,373.0 L331.0,373.2 L332.0,373.7 L333.0,374.6 L334.0,378.2 L334.0,378.2 L333.0,381.7 L332.0,382.6 L331.0,382.9 L330.0,383.1 L329.0,383.1 L328.0,383.1 L327.0,383.1 L326.0,383.1 L325.0,383.0 L324.0,383.0 L323.0,383.0 L322.0,382.9 L321.0,382.9 L320.0,382.9 L319.0,382.8 L318.0,382.7 L317.0,382.4 L316.0,382.0 L315.0,381.1 L314.0,377.5Z M335.0,378.2 L336.0,374.6 L337.0,373.7 L338.0,373.4 L339.0,373.2 L340.0,373.2 L341.0,373.2 L342.0,373.3 L343.0,373.3 L344.0,373.4 L345.0,373.4 L346.0,373.4 L347.0,373.5 L348.0,373.5 L349.0,373.6 L350.0,373.8 L351.0,374.3 L352.0,375.2 L353.0,379.0 L353.0,379.0 L352.0,382.6 L351.0,383.5 L350.0,383.8 L349.0,383.9 L348.0,383.9 L347.0,383.9 L346.0,383.9 L345.0,383.8 L344.0,383.8 L343.0,383.7 L342.0,383.7 L341.0,383.6 L340.0,383.6 L339.0,383.5 L338.0,383.3 L337.0,382.9 L336.0,381.9 L335.0,378.2Z M354.0,379.0 L355.0,375.6 L356.0,374.7 L357.0,374.4 L358.0,374.2 L359.0,374.2 L360.0,374.2 L361.0,374.3 L362.0,374.4 L363.0,374.5 L364.0,374.7 L365.0,374.9 L366.0,375.1 L367.0,375.4 L368.0,375.8 L369.0,376.3 L370.0,376.7 L371.0,377.3 L372.0,378.0 L373.0,379.0 L374.0,380.3 L375.0,384.1 L375.0,384.1 L374.0,386.9 L373.0,387.3 L372.0,387.3 L371.0,387.0 L370.0,386.7 L369.0,386.4 L368.0,386.1 L367.0,385.8 L366.0,385.5 L365.0,385.3 L364.0,385.1 L363.0,385.0 L362.0,384.9 L361.0,384.8 L360.0,384.7 L359.0,384.6 L358.0,384.4 L357.0,384.1 L356.0,383.6 L355.0,382.6 L354.0,379.0Z M377.0,385.2 L378.0,382.7 L379.0,382.4 L380.0,382.6 L381.0,382.9 L382.0,383.4 L383.0,384.0 L384.0,384.5 L385.0,385.1 L386.0,385.8 L387.0,386.4 L388.0,387.0 L389.0,387.6 L390.0,388.2 L391.0,388.9 L392.0,389.5 L393.0,390.1 L394.0,390.7 L395.0,391.4 L396.0,392.1 L397.0,393.0 L398.0,394.0 L399.0,395.3 L400.0,398.7 L400.0,398.7 L399.0,401.0 L398.0,401.3 L397.0,401.3 L396.0,401.0 L395.0,400.6 L394.0,400.1 L393.0,399.5 L392.0,399.0 L391.0,398.4 L390.0,397.8 L389.0,397.2 L388.0,396.6 L387.0,395.9 L386.0,395.3 L385.0,394.7 L384.0,394.1 L383.0,393.4 L382.0,392.7 L381.0,392.0 L380.0,391.3 L379.0,390.3 L378.0,388.9 L377.0,385.2Z M402.0,399.1 L403.0,395.8 L404.0,394.5 L405.0,393.6 L406.0,392.8 L407.0,392.1 L408.0,391.5 L409.0,390.9 L410.0,390.3 L411.0,389.7 L412.0,389.2 L413.0,388.6 L414.0,388.0 L415.0,387.4 L416.0,386.8 L417.0,386.2 L418.0,385.7 L419.0,385.2 L420.0,384.8 L421.0,384.6 L422.0,384.8 L423.0,387.3 L423.0,387.3 L422.0,390.9 L421.0,392.2 L420.0,393.1 L419.0,393.8 L418.0,394.4 L417.0,395.0 L416.0,395.5 L415.0,396.1 L414.0,396.6 L413.0,397.2 L412.0,397.7 L411.0,398.3 L410.0,398.8 L409.0,399.4 L408.0,399.9 L407.0,400.4 L406.0,400.9 L405.0,401.3 L404.0,401.5 L403.0,401.3 L402.0,399.1Z M424.0,386.8 L425.0,383.0 L426.0,381.6 L427.0,380.7 L428.0,380.0 L429.0,379.5 L430.0,378.9 L431.0,378.4 L432.0,377.9 L433.0,377.5 L434.0,377.0 L435.0,376.6 L436.0,376.4 L437.0,376.1 L438.0,376.1 L439.0,376.2 L440.0,376.5 L441.0,377.3 L442.0,381.0 L442.0,381.0 L441.0,384.9 L440.0,385.9 L439.0,386.4 L438.0,386.6 L437.0,386.7 L436.0,387.0 L435.0,387.1 L434.0,387.5 L433.0,387.8 L432.0,388.1 L431.0,388.5 L430.0,388.9 L429.0,389.3 L428.0,389.6 L427.0,389.9 L426.0,390.0 L425.0,389.6 L424.0,386.8Z M444.0,380.9 L445.0,377.4 L446.0,376.5 L447.0,375.9 L448.0,375.6 L449.0,375.4 L450.0,375.3 L451.0,375.3 L452.0,375.2 L453.0,375.2 L454.0,375.2 L455.0,375.2 L456.0,375.1 L457.0,375.1 L458.0,375.1 L459.0,375.0 L460.0,375.0 L461.0,375.0 L462.0,375.0 L463.0,375.0 L464.0,375.2 L465.0,375.4 L466.0,375.8 L467.0,376.8 L468.0,380.1 L468.0,380.1 L467.0,383.5 L466.0,384.4 L465.0,384.9 L464.0,385.2 L463.0,385.4 L462.0,385.5 L461.0,385.5 L460.0,385.6 L459.0,385.6 L458.0,385.7 L457.0,385.7 L456.0,385.7 L455.0,385.8 L454.0,385.8 L453.0,385.8 L452.0,385.9 L451.0,385.9 L450.0,385.9 L449.0,385.9 L448.0,385.8 L447.0,385.6 L446.0,385.2 L445.0,384.3 L444.0,380.9Z M470.0,380.0 L471.0,376.6 L472.0,375.7 L473.0,375.2 L474.0,374.9 L475.0,374.8 L476.0,374.7 L477.0,374.7 L478.0,374.7 L479.0,374.6 L480.0,374.6 L481.0,374.6 L482.0,374.6 L483.0,374.6 L484.0,374.6 L485.0,374.5 L486.0,374.5 L487.0,374.5 L488.0,374.6 L489.0,374.7 L490.0,374.9 L491.0,375.3 L492.0,376.2 L493.0,379.4 L493.0,379.4 L492.0,382.7 L491.0,383.6 L490.0,384.1 L489.0,384.4 L488.0,384.5 L487.0,384.6 L486.0,384.7 L485.0,384.7 L484.0,384.7 L483.0,384.8 L482.0,384.8 L481.0,384.9 L480.0,384.9 L479.0,384.9 L478.0,385.0 L477.0,385.0 L476.0,385.0 L475.0,385.0 L474.0,384.9 L473.0,384.7 L472.0,384.3 L471.0,383.4 L470.0,380.0Z M314.0,388.5 L315.0,385.1 L316.0,384.3 L317.0,383.9 L318.0,383.7 L319.0,383.6 L320.0,383.6 L321.0,383.6 L322.0,383.6 L323.0,383.7 L324.0,383.7 L325.0,383.7 L326.0,383.8 L327.0,383.8 L328.0,383.8 L329.0,383.9 L330.0,383.9 L331.0,384.0 L332.0,384.2 L333.0,384.4 L334.0,384.9 L335.0,385.9 L336.0,389.3 L336.0,389.3 L335.0,392.7 L334.0,393.6 L333.0,394.0 L332.0,394.2 L331.0,394.2 L330.0,394.2 L329.0,394.2 L328.0,394.2 L327.0,394.2 L326.0,394.1 L325.0,394.1 L324.0,394.0 L323.0,394.0 L322.0,394.0 L321.0,393.9 L320.0,393.9 L319.0,393.8 L318.0,393.6 L317.0,393.4 L316.0,392.9 L315.0,391.9 L314.0,388.5Z M337.0,389.4 L338.0,385.9 L339.0,385.0 L340.0,384.6 L341.0,384.5 L342.0,384.4 L343.0,384.4 L344.0,384.5 L345.0,384.5 L346.0,384.6 L347.0,384.6 L348.0,384.7 L349.0,384.7 L350.0,384.8 L351.0,384.8 L352.0,384.9 L353.0,385.0 L354.0,385.3 L355.0,385.8 L356.0,386.8 L357.0,390.4 L357.0,390.4 L356.0,393.9 L355.0,394.8 L354.0,395.1 L353.0,395.2 L352.0,395.3 L351.0,395.2 L350.0,395.2 L349.0,395.1 L348.0,395.1 L347.0,395.0 L346.0,395.0 L345.0,394.9 L344.0,394.9 L343.0,394.8 L342.0,394.7 L341.0,394.6 L340.0,394.4 L339.0,393.9 L338.0,393.0 L337.0,389.4Z M359.0,390.6 L360.0,387.3 L361.0,386.5 L362.0,386.1 L363.0,385.9 L364.0,385.9 L365.0,386.0 L366.0,386.2 L367.0,386.5 L368.0,386.8 L369.0,387.1 L370.0,387.5 L371.0,387.9 L372.0,388.3 L373.0,388.8 L374.0,389.2 L375.0,389.7 L376.0,390.2 L377.0,390.7 L378.0,391.4 L379.0,392.0 L380.0,392.8 L381.0,393.8 L382.0,395.2 L383.0,398.9 L383.0,398.9 L382.0,401.3 L381.0,401.5 L380.0,401.4 L379.0,401.1 L378.0,400.7 L377.0,400.3 L376.0,399.8 L375.0,399.4 L374.0,399.1 L373.0,398.7 L372.0,398.3 L371.0,397.9 L370.0,397.6 L369.0,397.4 L368.0,397.1 L367.0,396.8 L366.0,396.5 L365.0,396.4 L364.0,396.2 L363.0,395.9 L362.0,395.6 L361.0,395.0 L360.0,394.0 L359.0,390.6Z M385.0,400.2 L386.0,397.7 L387.0,397.5 L388.0,397.7 L389.0,398.1 L390.0,398.6 L391.0,399.1 L392.0,399.7 L393.0,400.2 L394.0,400.8 L395.0,401.3 L396.0,401.9 L397.0,402.4 L398.0,402.8 L399.0,403.2 L400.0,403.6 L401.0,404.0 L402.0,403.9 L403.0,403.5 L404.0,403.0 L405.0,402.7 L406.0,402.5 L407.0,402.7 L408.0,404.8 L408.0,404.8 L407.0,408.1 L406.0,409.4 L405.0,410.3 L404.0,411.0 L403.0,411.5 L402.0,412.0 L401.0,412.2 L400.0,412.1 L399.0,411.9 L398.0,411.7 L397.0,411.4 L396.0,411.1 L395.0,410.7 L394.0,410.2 L393.0,409.7 L392.0,409.2 L391.0,408.6 L390.0,408.0 L389.0,407.3 L388.0,406.4 L387.0,405.4 L386.0,403.9 L385.0,400.2Z M410.0,403.8 L411.0,400.1 L412.0,398.9 L413.0,398.0 L414.0,397.4 L415.0,396.8 L416.0,396.2 L417.0,395.7 L418.0,395.1 L419.0,394.6 L420.0,394.1 L421.0,393.6 L422.0,393.1 L423.0,392.7 L424.0,392.3 L425.0,392.2 L426.0,392.5 L427.0,395.6 L427.0,395.6 L426.0,399.4 L425.0,400.6 L424.0,401.2 L423.0,401.7 L422.0,402.2 L421.0,402.6 L420.0,403.0 L419.0,403.4 L418.0,403.9 L417.0,404.4 L416.0,404.9 L415.0,405.4 L414.0,405.9 L413.0,406.3 L412.0,406.5 L411.0,406.3 L410.0,403.8Z M428.0,395.2 L429.0,391.7 L430.0,390.4 L431.0,389.6 L432.0,389.0 L433.0,388.6 L434.0,388.2 L435.0,387.9 L436.0,387.7 L437.0,387.5 L438.0,387.4 L439.0,387.3 L440.0,387.2 L441.0,387.1 L442.0,387.1 L443.0,387.0 L444.0,387.0 L445.0,386.9 L446.0,386.9 L447.0,387.0 L448.0,387.2 L449.0,387.6 L450.0,388.5 L451.0,391.9 L451.0,391.9 L450.0,395.4 L449.0,396.4 L448.0,396.9 L447.0,397.2 L446.0,397.4 L445.0,397.5 L444.0,397.6 L443.0,397.7 L442.0,397.7 L441.0,397.8 L440.0,397.9 L439.0,398.0 L438.0,398.0 L437.0,398.1 L436.0,398.3 L435.0,398.4 L434.0,398.6 L433.0,398.7 L432.0,398.8 L431.0,398.8 L430.0,398.6 L429.0,398.1 L428.0,395.2Z M453.0,391.8 L454.0,388.4 L455.0,387.4 L456.0,386.9 L457.0,386.6 L458.0,386.4 L459.0,386.4 L460.0,386.3 L461.0,386.3 L462.0,386.2 L463.0,386.2 L464.0,386.1 L465.0,386.1 L466.0,386.1 L467.0,386.1 L468.0,386.0 L469.0,386.0 L470.0,386.0 L471.0,386.0 L472.0,386.1 L473.0,386.3 L474.0,386.7 L475.0,387.6 L476.0,390.9 L476.0,390.9 L475.0,394.3 L474.0,395.3 L473.0,395.8 L472.0,396.1 L471.0,396.3 L470.0,396.4 L469.0,396.4 L468.0,396.5 L467.0,396.5 L466.0,396.6 L465.0,396.6 L464.0,396.7 L463.0,396.7 L462.0,396.8 L461.0,396.8 L460.0,396.9 L459.0,396.9 L458.0,396.9 L457.0,396.8 L456.0,396.6 L455.0,396.2 L454.0,395.3 L453.0,391.8Z M477.0,390.9 L478.0,387.1 L479.0,386.2 L480.0,385.8 L481.0,385.6 L482.0,385.5 L483.0,385.5 L484.0,385.4 L485.0,385.4 L486.0,385.4 L487.0,385.3 L488.0,385.3 L489.0,385.3 L490.0,385.3 L491.0,385.4 L492.0,385.7 L493.0,386.5 L494.0,390.0 L494.0,390.0 L493.0,393.7 L492.0,394.6 L491.0,395.0 L490.0,395.2 L489.0,395.3 L488.0,395.4 L487.0,395.5 L486.0,395.5 L485.0,395.6 L484.0,395.6 L483.0,395.7 L482.0,395.7 L481.0,395.8 L480.0,395.7 L479.0,395.4 L478.0,394.6 L477.0,390.9Z M314.0,399.5 L315.0,396.1 L316.0,395.3 L317.0,394.9 L318.0,394.7 L319.0,394.6 L320.0,394.6 L321.0,394.6 L322.0,394.7 L323.0,394.7 L324.0,394.7 L325.0,394.8 L326.0,394.8 L327.0,394.9 L328.0,394.9 L329.0,394.9 L330.0,395.0 L331.0,395.1 L332.0,395.2 L333.0,395.5 L334.0,396.0 L335.0,396.9 L336.0,400.4 L336.0,400.4 L335.0,403.8 L334.0,404.6 L333.0,405.0 L332.0,405.2 L331.0,405.3 L330.0,405.3 L329.0,405.3 L328.0,405.2 L327.0,405.2 L326.0,405.1 L325.0,405.1 L324.0,405.1 L323.0,405.0 L322.0,405.0 L321.0,404.9 L320.0,404.9 L319.0,404.8 L318.0,404.6 L317.0,404.4 L316.0,403.9 L315.0,402.9 L314.0,399.5Z M338.0,400.5 L339.0,397.0 L340.0,396.1 L341.0,395.7 L342.0,395.6 L343.0,395.6 L344.0,395.6 L345.0,395.6 L346.0,395.7 L347.0,395.7 L348.0,395.8 L349.0,395.8 L350.0,395.9 L351.0,396.0 L352.0,396.0 L353.0,396.1 L354.0,396.3 L355.0,396.5 L356.0,397.0 L357.0,398.0 L358.0,401.7 L358.0,401.7 L357.0,405.2 L356.0,406.0 L355.0,406.4 L354.0,406.5 L353.0,406.5 L352.0,406.4 L351.0,406.4 L350.0,406.3 L349.0,406.3 L348.0,406.2 L347.0,406.1 L346.0,406.1 L345.0,406.0 L344.0,406.0 L343.0,405.9 L342.0,405.8 L341.0,405.5 L340.0,405.0 L339.0,404.1 L338.0,400.5Z M360.0,401.8 L361.0,398.5 L362.0,397.7 L363.0,397.3 L364.0,397.2 L365.0,397.2 L366.0,397.3 L367.0,397.5 L368.0,397.8 L369.0,398.1 L370.0,398.3 L371.0,398.6 L372.0,399.0 L373.0,399.4 L374.0,399.8 L375.0,400.2 L376.0,400.6 L377.0,401.0 L378.0,401.6 L379.0,402.2 L380.0,403.0 L381.0,403.9 L382.0,405.4 L383.0,409.1 L383.0,409.1 L382.0,411.5 L381.0,411.7 L380.0,411.7 L379.0,411.4 L378.0,411.0 L377.0,410.6 L376.0,410.2 L375.0,409.9 L374.0,409.6 L373.0,409.3 L372.0,408.9 L371.0,408.7 L370.0,408.5 L369.0,408.3 L368.0,408.1 L367.0,407.9 L366.0,407.6 L365.0,407.4 L364.0,407.2 L363.0,406.9 L362.0,406.3 L361.0,405.3 L360.0,401.8Z M385.0,410.5 L386.0,407.8 L387.0,407.5 L388.0,407.8 L389.0,408.3 L390.0,408.8 L391.0,409.3 L392.0,409.9 L393.0,410.4 L394.0,410.9 L395.0,411.4 L396.0,411.8 L397.0,412.1 L398.0,412.4 L399.0,412.7 L400.0,412.8 L401.0,413.1 L402.0,413.2 L403.0,413.5 L404.0,416.0 L404.0,416.0 L403.0,419.3 L402.0,420.3 L401.0,420.9 L400.0,421.2 L399.0,421.3 L398.0,421.3 L397.0,421.2 L396.0,421.0 L395.0,420.7 L394.0,420.3 L393.0,419.8 L392.0,419.4 L391.0,418.8 L390.0,418.3 L389.0,417.6 L388.0,416.9 L387.0,415.9 L386.0,414.4 L385.0,410.5Z M405.0,415.5 L406.0,412.3 L407.0,411.0 L408.0,410.1 L409.0,409.4 L410.0,408.8 L411.0,408.2 L412.0,407.7 L413.0,407.2 L414.0,406.7 L415.0,406.1 L416.0,405.6 L417.0,405.1 L418.0,404.6 L419.0,404.1 L420.0,403.7 L421.0,403.3 L422.0,402.9 L423.0,402.5 L424.0,402.3 L425.0,402.1 L426.0,402.2 L427.0,402.8 L428.0,405.6 L428.0,405.6 L427.0,409.0 L426.0,410.0 L425.0,410.7 L424.0,411.2 L423.0,411.6 L422.0,411.9 L421.0,412.3 L420.0,412.6 L419.0,413.0 L418.0,413.4 L417.0,413.9 L416.0,414.4 L415.0,414.8 L414.0,415.3 L413.0,415.8 L412.0,416.2 L411.0,416.7 L410.0,417.1 L409.0,417.5 L408.0,417.8 L407.0,417.9 L406.0,417.7 L405.0,415.5Z M430.0,405.2 L431.0,401.8 L432.0,400.7 L433.0,400.0 L434.0,399.5 L435.0,399.2 L436.0,399.0 L437.0,398.8 L438.0,398.8 L439.0,398.7 L440.0,398.6 L441.0,398.5 L442.0,398.4 L443.0,398.4 L444.0,398.3 L445.0,398.3 L446.0,398.2 L447.0,398.2 L448.0,398.1 L449.0,398.2 L450.0,398.2 L451.0,398.4 L452.0,398.9 L453.0,399.8 L454.0,403.1 L454.0,403.1 L453.0,406.6 L452.0,407.6 L451.0,408.1 L450.0,408.4 L449.0,408.6 L448.0,408.7 L447.0,408.8 L446.0,408.9 L445.0,408.9 L444.0,409.0 L443.0,409.1 L442.0,409.1 L441.0,409.2 L440.0,409.3 L439.0,409.3 L438.0,409.4 L437.0,409.5 L436.0,409.5 L435.0,409.5 L434.0,409.5 L433.0,409.3 L432.0,409.0 L431.0,408.2 L430.0,405.2Z M456.0,403.0 L457.0,399.4 L458.0,398.5 L459.0,398.0 L460.0,397.7 L461.0,397.6 L462.0,397.5 L463.0,397.4 L464.0,397.4 L465.0,397.3 L466.0,397.3 L467.0,397.2 L468.0,397.2 L469.0,397.1 L470.0,397.1 L471.0,397.1 L472.0,397.1 L473.0,397.1 L474.0,397.3 L475.0,397.6 L476.0,398.5 L477.0,401.9 L477.0,401.9 L476.0,405.4 L475.0,406.4 L474.0,406.9 L473.0,407.2 L472.0,407.4 L471.0,407.5 L470.0,407.5 L469.0,407.6 L468.0,407.7 L467.0,407.7 L466.0,407.8 L465.0,407.9 L464.0,407.9 L463.0,408.0 L462.0,408.0 L461.0,408.0 L460.0,408.0 L459.0,407.8 L458.0,407.4 L457.0,406.6 L456.0,403.0Z M478.0,401.8 L479.0,398.0 L480.0,397.0 L481.0,396.7 L482.0,396.5 L483.0,396.4 L484.0,396.3 L485.0,396.3 L486.0,396.2 L487.0,396.2 L488.0,396.1 L489.0,396.0 L490.0,396.0 L491.0,396.1 L492.0,396.3 L493.0,397.1 L494.0,400.7 L494.0,400.7 L493.0,404.5 L492.0,405.4 L491.0,405.8 L490.0,406.0 L489.0,406.1 L488.0,406.2 L487.0,406.3 L486.0,406.4 L485.0,406.4 L484.0,406.5 L483.0,406.6 L482.0,406.6 L481.0,406.6 L480.0,406.4 L479.0,405.6 L478.0,401.8Z" fill="#f7c2bd"/>
<path d="M322.0,378.1l4,-0.6 M342.0,378.9l4,-0.6 M363.0,380.4l4,-0.6 M387.0,392.7l4,-0.6 M411.0,393.2l4,-0.6 M431.0,382.9l4,-0.6 M454.0,380.7l4,-0.6 M480.0,380.0l4,-0.6 M323.0,389.2l4,-0.6 M345.0,390.1l4,-0.6 M369.0,393.2l4,-0.6 M395.0,407.2l4,-0.6 M417.0,399.3l4,-0.6 M438.0,392.8l4,-0.6 M463.0,391.7l4,-0.6 M484.0,390.7l4,-0.6 M323.0,400.2l4,-0.6 M346.0,401.3l4,-0.6 M370.0,404.3l4,-0.6 M393.0,416.3l4,-0.6 M415.0,409.8l4,-0.6 M440.0,404.1l4,-0.6 M465.0,402.8l4,-0.6 M484.0,401.6l4,-0.6" fill="none" stroke="#fbd8d2" stroke-width="1" stroke-linecap="round"/>
<path d="M314.0,355.5 L342.1,355.8 L355.1,356.0 L362.4,356.3 L367.0,356.8 L369.0,357.2 L372.4,358.8 L377.1,361.4 L385.1,366.3 L402.0,377.0 L415.5,367.7 L421.9,363.5 L425.8,361.2 L428.6,359.8 L430.4,359.2 L435.6,358.8 L444.2,358.4 L460.1,358.1 L495.0,357.5 L495.0,374.0 L464.1,374.6 L449.8,374.9 L441.9,375.3 L437.0,375.8 L435.0,376.2 L431.6,377.8 L426.8,380.2 L418.7,384.9 L401.5,395.0 L383.8,384.0 L375.3,379.0 L370.1,376.3 L366.2,374.8 L363.8,374.2 L359.0,373.8 L352.0,373.3 L339.9,372.8 L314.0,372.0Z" fill="#f9e1a6"/>
<path d="M323.0,358.4 L325.0,358.4 L327.0,358.4 L329.0,358.5 L331.0,358.5 L333.0,358.5 L335.0,358.5 L337.0,358.6 L339.0,358.6 L341.0,358.6 L343.0,358.7 L345.0,358.7 L347.0,358.8 L349.0,358.8 L351.0,358.8 M355.0,358.9 L357.0,359.0 L359.0,359.1 L361.0,359.2 L363.0,359.4 L365.0,359.6 L367.0,359.8 L369.0,360.4 L371.0,361.3 L373.0,362.3 M376.0,363.9 L378.0,365.1 L380.0,366.3 L382.0,367.5 L384.0,368.7 L386.0,370.0 L388.0,371.2 L390.0,372.5 L392.0,373.7 L394.0,375.0 L396.0,376.3 L398.0,377.5 L400.0,378.8 L402.0,380.0 M406.0,377.3 L408.0,375.9 L410.0,374.6 L412.0,373.2 L414.0,371.9 L416.0,370.6 L418.0,369.3 L420.0,368.0 L422.0,366.7 L424.0,365.5 L426.0,364.3 L428.0,363.3 L430.0,362.6 L432.0,362.2 L434.0,361.9 L436.0,361.7 L438.0,361.5 M441.0,361.4 L443.0,361.3 L445.0,361.2 L447.0,361.2 L449.0,361.1 L451.0,361.0 L453.0,361.0 L455.0,361.0 L457.0,360.9 L459.0,360.9 L461.0,360.8 L463.0,360.8 L465.0,360.7 L467.0,360.7 L469.0,360.7 L471.0,360.6 L473.0,360.6 M476.0,360.6 L478.0,360.5 L480.0,360.5 L482.0,360.5 L484.0,360.4 L486.0,360.4 L488.0,360.4 L490.0,360.3 L492.0,360.3 M319.0,361.1 L321.0,361.1 L323.0,361.2 L325.0,361.2 L327.0,361.2 L329.0,361.3 L331.0,361.3 L333.0,361.3 L335.0,361.4 L337.0,361.4 L339.0,361.4 L341.0,361.5 L343.0,361.5 M347.0,361.6 L349.0,361.7 L351.0,361.7 L353.0,361.8 L355.0,361.9 L357.0,362.0 L359.0,362.1 L361.0,362.2 L363.0,362.3 L365.0,362.5 L367.0,362.9 L369.0,363.5 L371.0,364.4 M375.0,366.5 L377.0,367.6 L379.0,368.8 L381.0,370.0 L383.0,371.2 L385.0,372.4 L387.0,373.7 L389.0,374.9 L391.0,376.2 L393.0,377.4 M397.0,380.0 L399.0,381.2 L401.0,382.5 L403.0,382.2 L405.0,380.9 L407.0,379.6 L409.0,378.3 L411.0,377.0 L413.0,375.7 L415.0,374.4 L417.0,373.1 L419.0,371.8 L421.0,370.6 L423.0,369.4 L425.0,368.2 L427.0,367.1 L429.0,366.1 M433.0,365.1 L435.0,364.7 L437.0,364.4 L439.0,364.3 L441.0,364.2 L443.0,364.1 L445.0,364.0 L447.0,363.9 M453.0,363.8 L455.0,363.7 L457.0,363.7 L459.0,363.6 L461.0,363.6 L463.0,363.5 L465.0,363.5 L467.0,363.5 L469.0,363.4 L471.0,363.4 L473.0,363.4 L475.0,363.3 L477.0,363.3 L479.0,363.3 L481.0,363.2 M486.0,363.2 L488.0,363.1 L490.0,363.1 L492.0,363.1 M314.0,363.8 L316.0,363.8 L318.0,363.8 L320.0,363.9 L322.0,363.9 L324.0,364.0 L326.0,364.0 L328.0,364.0 L330.0,364.1 L332.0,364.1 L334.0,364.2 L336.0,364.2 L338.0,364.3 L340.0,364.3 M344.0,364.4 L346.0,364.5 L348.0,364.5 L350.0,364.6 L352.0,364.7 L354.0,364.7 L356.0,364.8 L358.0,364.9 L360.0,365.1 L362.0,365.2 M367.0,365.9 L369.0,366.6 L371.0,367.5 L373.0,368.5 L375.0,369.6 L377.0,370.7 L379.0,371.9 L381.0,373.1 L383.0,374.3 M387.0,376.8 L389.0,378.0 L391.0,379.3 L393.0,380.5 L395.0,381.8 L397.0,383.0 L399.0,384.3 L401.0,385.5 L403.0,385.2 L405.0,383.9 L407.0,382.7 L409.0,381.4 L411.0,380.1 L413.0,378.8 L415.0,377.5 L417.0,376.3 M421.0,373.8 L423.0,372.6 L425.0,371.5 L427.0,370.3 L429.0,369.4 L431.0,368.6 L433.0,368.1 L435.0,367.6 L437.0,367.2 L439.0,367.1 M444.0,366.8 L446.0,366.8 L448.0,366.7 L450.0,366.6 L452.0,366.6 L454.0,366.5 L456.0,366.5 L458.0,366.4 L460.0,366.4 L462.0,366.3 L464.0,366.3 L466.0,366.2 M471.0,366.2 L473.0,366.1 L475.0,366.1 L477.0,366.1 L479.0,366.0 L481.0,366.0 L483.0,366.0 L485.0,365.9 M489.0,365.9 L491.0,365.8 L493.0,365.8 M314.0,366.5 L316.0,366.6 L318.0,366.6 L320.0,366.7 L322.0,366.7 L324.0,366.8 L326.0,366.8 L328.0,366.9 L330.0,366.9 L332.0,367.0 L334.0,367.0 L336.0,367.1 L338.0,367.1 L340.0,367.2 L342.0,367.2 L344.0,367.3 L346.0,367.3 M350.0,367.5 L352.0,367.6 L354.0,367.6 L356.0,367.8 L358.0,367.9 L360.0,368.0 L362.0,368.2 L364.0,368.4 L366.0,368.7 L368.0,369.3 L370.0,370.1 L372.0,371.1 L374.0,372.1 L376.0,373.2 L378.0,374.4 M381.0,376.2 L383.0,377.4 L385.0,378.6 L387.0,379.8 L389.0,381.1 L391.0,382.3 L393.0,383.6 L395.0,384.8 L397.0,386.1 L399.0,387.3 M405.0,386.9 L407.0,385.7 L409.0,384.4 L411.0,383.2 L413.0,382.0 L415.0,380.7 L417.0,379.5 L419.0,378.3 L421.0,377.1 M425.0,374.7 L427.0,373.6 L429.0,372.6 L431.0,371.8 L433.0,371.1 L435.0,370.5 L437.0,370.1 L439.0,369.9 L441.0,369.8 L443.0,369.7 L445.0,369.6 L447.0,369.5 L449.0,369.4 L451.0,369.4 M456.0,369.2 L458.0,369.2 L460.0,369.1 L462.0,369.1 L464.0,369.0 L466.0,369.0 L468.0,369.0 L470.0,368.9 M475.0,368.8 L477.0,368.8 L479.0,368.8 L481.0,368.7 L483.0,368.7 L485.0,368.7 L487.0,368.6 L489.0,368.6 L491.0,368.6 M317.0,369.3 L319.0,369.4 L321.0,369.5 L323.0,369.5 L325.0,369.6 L327.0,369.6 L329.0,369.7 L331.0,369.7 L333.0,369.8 L335.0,369.9 L337.0,369.9 L339.0,370.0 L341.0,370.0 L343.0,370.1 M348.0,370.3 L350.0,370.4 L352.0,370.4 L354.0,370.6 L356.0,370.7 L358.0,370.8 L360.0,370.9 L362.0,371.1 L364.0,371.3 M368.0,372.4 L370.0,373.2 L372.0,374.2 L374.0,375.3 L376.0,376.3 L378.0,377.5 L380.0,378.7 L382.0,379.9 M386.0,382.3 L388.0,383.6 L390.0,384.8 L392.0,386.0 L394.0,387.3 L396.0,388.5 L398.0,389.8 L400.0,391.0 L402.0,391.8 L404.0,390.5 L406.0,389.3 L408.0,388.1 L410.0,386.9 L412.0,385.7 L414.0,384.5 M420.0,380.9 L422.0,379.7 L424.0,378.6 L426.0,377.4 L428.0,376.4 L430.0,375.4 L432.0,374.5 L434.0,373.7 L436.0,373.1 L438.0,372.8 L440.0,372.7 L442.0,372.5 L444.0,372.4 L446.0,372.3 L448.0,372.2 L450.0,372.2 L452.0,372.1 M457.0,372.0 L459.0,371.9 L461.0,371.9 L463.0,371.8 L465.0,371.8 L467.0,371.7 L469.0,371.7 L471.0,371.7 L473.0,371.6 L475.0,371.6 L477.0,371.6 L479.0,371.5 L481.0,371.5 L483.0,371.5 L485.0,371.4 L487.0,371.4" fill="none" stroke="#f0cd88" stroke-width="0.8"/>
<path d="M314.0,372.0 L339.9,372.8 L352.0,373.3 L359.0,373.8 L363.8,374.2 L366.2,374.8 L370.1,376.3 L375.3,379.0 L383.8,384.0 L401.5,395.0 L418.7,384.9 L426.8,380.2 L431.6,377.8 L435.0,376.2 L437.0,375.8 L441.9,375.3 L449.8,374.9 L464.1,374.6 L495.0,374.0" fill="none" stroke="#f3b9a0" stroke-width="1"/>
<path d="M314.0,346.2 L343.2,346.4 L356.7,346.6 L364.1,346.9 L368.6,347.3 L370.4,347.8 L373.5,349.5 L378.0,352.4 L385.7,357.7 L402.0,369.4 L414.4,359.9 L420.3,355.5 L423.9,353.0 L426.6,351.5 L428.4,350.8 L430.1,350.2 L431.9,349.8 L433.6,349.4 L435.4,349.2 L440.2,349.0 L448.2,348.8 L462.9,348.5 L495.0,348.2 L495.0,357.5 L460.1,358.1 L444.2,358.4 L435.6,358.8 L430.4,359.2 L428.6,359.8 L425.8,361.2 L421.9,363.5 L415.5,367.7 L402.0,377.0 L385.1,366.3 L377.1,361.4 L372.4,358.8 L369.0,357.2 L367.0,356.8 L362.4,356.3 L355.1,356.0 L342.1,355.8 L314.0,355.5Z" fill="#f6c2a4"/>
<path d="M314.0,349.3 L316.0,349.3 L318.0,349.3 L320.0,349.3 L322.0,349.4 L324.0,349.4 L326.0,349.4 L328.0,349.4 L330.0,349.4 L332.0,349.4 L334.0,349.4 L336.0,349.5 L338.0,349.5 L340.0,349.5 L342.0,349.5 L344.0,349.5 L346.0,349.6 L348.0,349.6 L350.0,349.6 L352.0,349.7 L354.0,349.7 L356.0,349.7 L358.0,349.8 L360.0,349.9 L362.0,350.0 L364.0,350.1 L366.0,350.3 L368.0,350.5 L370.0,351.0 L372.0,352.0 L374.0,353.1 L376.0,354.3 L378.0,355.6 L380.0,356.9 L382.0,358.2 L384.0,359.6 L386.0,360.9 L388.0,362.3 L390.0,363.7 L392.0,365.0 L394.0,366.4 L396.0,367.8 L398.0,369.2 L400.0,370.6 L402.0,371.9 L404.0,370.5 L406.0,369.0 L408.0,367.5 L410.0,366.0 L412.0,364.5 L414.0,363.0 L416.0,361.6 L418.0,360.2 L420.0,358.7 L422.0,357.4 L424.0,356.1 L426.0,354.9 L428.0,354.0 L430.0,353.3 L432.0,352.9 L434.0,352.6 L436.0,352.4 L438.0,352.3 L440.0,352.2 L442.0,352.1 L444.0,352.1 L446.0,352.0 L448.0,352.0 L450.0,351.9 L452.0,351.9 L454.0,351.8 L456.0,351.8 L458.0,351.8 L460.0,351.7 L462.0,351.7 L464.0,351.7 L466.0,351.7 L468.0,351.6 L470.0,351.6 L472.0,351.6 L474.0,351.6 L476.0,351.5 L478.0,351.5 L480.0,351.5 L482.0,351.5 L484.0,351.4 L486.0,351.4 L488.0,351.4 L490.0,351.4 L492.0,351.3 L494.0,351.3 M314.0,352.4 L316.0,352.4 L318.0,352.4 L320.0,352.5 L322.0,352.5 L324.0,352.5 L326.0,352.5 L328.0,352.5 L330.0,352.5 L332.0,352.6 L334.0,352.6 L336.0,352.6 L338.0,352.6 L340.0,352.6 L342.0,352.6 L344.0,352.7 L346.0,352.7 L348.0,352.7 L350.0,352.8 L352.0,352.8 L354.0,352.9 L356.0,352.9 L358.0,353.0 L360.0,353.1 L362.0,353.1 L364.0,353.3 L366.0,353.5 L368.0,353.7 L370.0,354.4 L372.0,355.3 L374.0,356.4 L376.0,357.6 L378.0,358.8 L380.0,360.0 L382.0,361.3 L384.0,362.6 L386.0,363.9 L388.0,365.2 L390.0,366.5 L392.0,367.9 L394.0,369.2 L396.0,370.5 L398.0,371.8 L400.0,373.1 L402.0,374.5 L404.0,373.0 L406.0,371.6 L408.0,370.2 L410.0,368.8 L412.0,367.3 L414.0,365.9 L416.0,364.5 L418.0,363.1 L420.0,361.7 L422.0,360.4 L424.0,359.2 L426.0,358.0 L428.0,357.0 L430.0,356.3 L432.0,356.0 L434.0,355.8 L436.0,355.6 L438.0,355.5 L440.0,355.4 L442.0,355.3 L444.0,355.2 L446.0,355.2 L448.0,355.2 L450.0,355.1 L452.0,355.1 L454.0,355.0 L456.0,355.0 L458.0,354.9 L460.0,354.9 L462.0,354.9 L464.0,354.8 L466.0,354.8 L468.0,354.8 L470.0,354.8 L472.0,354.7 L474.0,354.7 L476.0,354.7 L478.0,354.6 L480.0,354.6 L482.0,354.6 L484.0,354.6 L486.0,354.5 L488.0,354.5 L490.0,354.5 L492.0,354.4 L494.0,354.4" fill="none" stroke="#eba688" stroke-width="0.8"/>
<path d="M314.0,355.5 L342.1,355.8 L355.1,356.0 L362.4,356.3 L367.0,356.8 L369.0,357.2 L372.4,358.8 L377.1,361.4 L385.1,366.3 L402.0,377.0 L415.5,367.7 L421.9,363.5 L425.8,361.2 L428.6,359.8 L430.4,359.2 L435.6,358.8 L444.2,358.4 L460.1,358.1 L495.0,357.5" fill="none" stroke="#eeb48c" stroke-width="0.9"/>
<path d="M314.0,346.2 L343.2,346.4 L356.7,346.6 L364.1,346.9 L368.6,347.3 L370.4,347.8 L373.5,349.5 L378.0,352.4 L385.7,357.7 L402.0,369.4 L414.4,359.9 L420.3,355.5 L423.9,353.0 L426.6,351.5 L428.4,350.8 L430.1,350.2 L431.9,349.8 L433.6,349.4 L435.4,349.2 L440.2,349.0 L448.2,348.8 L462.9,348.5 L495.0,348.2" fill="none" stroke="#d8946f" stroke-width="1.3"/>
</g>
<clipPath id="c3"><rect x="554" y="340" width="180" height="148"/></clipPath>
<g clip-path="url(#c3)">
<path d="M554.0,404.0 L579.9,404.3 L592.5,404.4 L600.5,404.6 L606.8,404.7 L611.2,404.8 L615.5,404.8 L619.5,404.5 L623.2,404.1 L626.8,403.4 L631.1,402.9 L636.4,402.5 L642.5,402.1 L649.5,401.9 L657.2,401.9 L665.8,402.1 L675.0,402.6 L685.0,403.4 L694.7,403.8 L704.1,404.0 L715.3,403.8 L735.0,403.0 L734.0,488.0 L554.0,488.0Z" fill="#fadcd1"/>
<rect x="554" y="473.0" width="180" height="15.0" fill="#f6bda3"/>
<path d="M556.0,419.5 Q565.4,446.3 578.0,473.0 M562.0,419.6 Q550.3,446.3 538.0,473.0 M569.0,419.7 Q579.2,446.3 591.0,473.0 M575.0,419.7 Q563.6,446.4 551.0,473.0 M582.0,419.8 Q593.8,446.4 604.0,473.0 M588.0,419.9 Q573.4,446.4 564.0,473.0 M595.0,420.0 Q603.1,446.5 617.0,473.0 M601.0,420.1 Q591.0,446.5 577.0,473.0 M608.0,420.2 Q617.6,446.6 630.0,473.0 M614.0,420.3 Q600.4,446.6 590.0,473.0 M621.0,419.7 Q635.0,446.3 643.0,473.0 M627.0,418.6 Q614.8,445.8 603.0,473.0 M634.0,417.8 Q647.0,445.4 656.0,473.0 M640.0,417.4 Q627.9,445.2 616.0,473.0 M647.0,417.2 Q658.8,445.1 669.0,473.0 M653.0,417.2 Q638.9,445.1 629.0,473.0 M660.0,417.4 Q671.8,445.2 682.0,473.0 M666.0,417.6 Q656.2,445.3 642.0,473.0 M673.0,418.0 Q684.1,445.5 695.0,473.0 M679.0,418.4 Q668.4,445.7 655.0,473.0 M686.0,418.9 Q698.0,446.0 708.0,473.0 M692.0,419.2 Q677.4,446.1 668.0,473.0 M699.0,419.4 Q711.5,446.2 721.0,473.0 M705.0,419.5 Q693.5,446.3 681.0,473.0 M712.0,419.4 Q721.8,446.2 734.0,473.0 M718.0,419.2 Q703.2,446.1 694.0,473.0 M725.0,418.9 Q738.2,446.0 747.0,473.0 M731.0,418.7 Q718.8,445.8 707.0,473.0 M575.0,419.7 Q578.8,446.4 580.0,473.0 M640.0,417.4 Q639.3,445.2 634.0,473.0 M700.0,419.4 Q704.3,446.2 706.0,473.0" fill="none" stroke="#c9938c" stroke-width="1.25"/>
<path d="M557.3,425.3l3.2,2.4M557.3,427.7l3.2,-2.4 M563.5,440.5l3.2,2.4M563.5,442.9l3.2,-2.4 M569.7,455.6l3.2,2.4M569.7,458.0l3.2,-2.4 M570.3,425.4l3.2,2.4M570.3,427.8l3.2,-2.4 M576.5,440.6l3.2,2.4M576.5,443.0l3.2,-2.4 M582.7,455.6l3.2,2.4M582.7,458.0l3.2,-2.4 M575.2,437.3l3.2,2.4M575.2,439.7l3.2,-2.4 M583.3,425.6l3.2,2.4M583.3,428.0l3.2,-2.4 M589.5,440.7l3.2,2.4M589.5,443.1l3.2,-2.4 M595.7,455.7l3.2,2.4M595.7,458.1l3.2,-2.4 M575.6,442.5l3.2,2.4M575.6,444.9l3.2,-2.4 M596.3,425.7l3.2,2.4M596.3,428.1l3.2,-2.4 M602.5,440.8l3.2,2.4M602.5,443.2l3.2,-2.4 M608.6,455.4l3.2,2.4M608.6,457.8l3.2,-2.4 M577.9,466.3l3.2,2.4M577.9,468.7l3.2,-2.4 M609.3,425.9l3.2,2.4M609.3,428.3l3.2,-2.4 M615.3,440.3l3.2,2.4M615.3,442.7l3.2,-2.4 M621.5,455.3l3.2,2.4M621.5,457.7l3.2,-2.4 M622.1,425.0l3.2,2.4M622.1,427.4l3.2,-2.4 M628.2,439.8l3.2,2.4M628.2,442.2l3.2,-2.4 M634.5,455.2l3.2,2.4M634.5,457.6l3.2,-2.4 M634.3,454.5l3.2,2.4M634.3,456.9l3.2,-2.4 M635.2,423.6l3.2,2.4M635.2,426.0l3.2,-2.4 M641.4,439.2l3.2,2.4M641.4,441.6l3.2,-2.4 M647.7,455.0l3.2,2.4M647.7,457.4l3.2,-2.4 M637.1,428.4l3.2,2.4M637.1,430.8l3.2,-2.4 M648.3,423.3l3.2,2.4M648.3,425.7l3.2,-2.4 M654.5,439.2l3.2,2.4M654.5,441.6l3.2,-2.4 M660.8,455.0l3.2,2.4M660.8,457.4l3.2,-2.4 M634.1,456.3l3.2,2.4M634.1,458.7l3.2,-2.4 M661.3,423.5l3.2,2.4M661.3,425.9l3.2,-2.4 M667.6,439.5l3.2,2.4M667.6,441.9l3.2,-2.4 M673.8,455.2l3.2,2.4M673.8,457.6l3.2,-2.4 M674.3,424.2l3.2,2.4M674.3,426.6l3.2,-2.4 M680.6,439.9l3.2,2.4M680.6,442.3l3.2,-2.4 M686.8,455.3l3.2,2.4M686.8,457.7l3.2,-2.4 M687.3,424.9l3.2,2.4M687.3,427.3l3.2,-2.4 M693.6,440.2l3.2,2.4M693.6,442.6l3.2,-2.4 M699.7,455.4l3.2,2.4M699.7,457.8l3.2,-2.4 M703.6,465.0l3.2,2.4M703.6,467.4l3.2,-2.4 M700.3,425.3l3.2,2.4M700.3,427.7l3.2,-2.4 M706.5,440.3l3.2,2.4M706.5,442.7l3.2,-2.4 M712.7,455.4l3.2,2.4M712.7,457.8l3.2,-2.4 M698.8,421.6l3.2,2.4M698.8,424.0l3.2,-2.4 M699.4,427.2l3.2,2.4M699.4,429.6l3.2,-2.4 M713.2,425.1l3.2,2.4M713.2,427.5l3.2,-2.4 M719.4,440.1l3.2,2.4M719.4,442.5l3.2,-2.4 M702.0,450.3l3.2,2.4M702.0,452.7l3.2,-2.4 M726.2,424.7l3.2,2.4M726.2,427.1l3.2,-2.4" fill="none" stroke="#e0716d" stroke-width="1"/>
<path d="M568.82,429.10 L566.81,431.77 L569.43,433.86 L566.10,433.45 L565.60,436.76 L564.29,433.68 L561.18,434.90 L563.19,432.23 L560.57,430.14 L563.90,430.55 L564.40,427.24 L565.71,430.32Z M579.77,461.75 L579.39,464.94 L582.56,465.41 L579.61,466.67 L580.79,469.66 L578.22,467.73 L576.23,470.25 L576.61,467.06 L573.44,466.59 L576.39,465.33 L575.21,462.34 L577.78,464.27Z M630.45,429.66 L628.77,432.56 L631.62,434.31 L628.27,434.31 L628.17,437.66 L626.50,434.75 L623.55,436.34 L625.23,433.44 L622.38,431.69 L625.73,431.69 L625.83,428.34 L627.50,431.25Z M659.89,421.03 L659.38,424.05 L662.39,424.65 L659.51,425.72 L660.49,428.63 L658.13,426.67 L656.11,428.97 L656.62,425.95 L653.61,425.35 L656.49,424.28 L655.51,421.37 L657.87,423.33Z M678.54,427.39 L676.66,429.81 L679.03,431.76 L675.99,431.35 L675.49,434.37 L674.33,431.53 L671.46,432.61 L673.34,430.19 L670.97,428.24 L674.01,428.65 L674.51,425.63 L675.67,428.47Z M659.85,459.81 L657.87,462.68 L660.69,464.74 L657.21,464.46 L656.84,467.93 L655.34,464.78 L652.15,466.19 L654.13,463.32 L651.31,461.26 L654.79,461.54 L655.16,458.07 L656.66,461.22Z M696.45,423.42 L697.02,426.58 L700.19,426.10 L697.74,428.17 L699.74,430.68 L696.72,429.59 L695.55,432.58 L694.98,429.42 L691.81,429.90 L694.26,427.83 L692.26,425.32 L695.28,426.41Z" fill="#6f6bb6" stroke="#8f8cc8" stroke-width="0.4"/>
<g transform="translate(595,473.0) scale(0.8) translate(-595,-473.0)">
<path d="M587,473.0 C593,470.0 596,459.0 595,449.0 C594.5,441.0 591,435.0 588,432.0 M595.3,451.0 C598,443.0 599,437.0 598,430.0 M594.7,446.0 C592,442.0 588,441.0 585,442.0" fill="none" stroke="#2f4868" stroke-width="1.2" stroke-linecap="round"/>
<path d="M600,472.5 C604,467.0 604,457.0 605,449.0 C605.5,443.0 603,437.0 602,433.0 M605,453.0 C609,449.0 614,448.0 618,443.0 M605,445.0 C608,440.0 612,438.0 613,433.0 M612,448.5 C614,451.0 617,452.0 620,451.0" fill="none" stroke="#b4564f" stroke-width="1" stroke-linecap="round"/>
</g>
<g transform="translate(689,473.0) scale(0.8) translate(-689,-473.0)">
<path d="M681,473.0 C687,470.0 690,459.0 689,449.0 C688.5,441.0 685,435.0 682,432.0 M689.3,451.0 C692,443.0 693,437.0 692,430.0 M688.7,446.0 C686,442.0 682,441.0 679,442.0" fill="none" stroke="#2f4868" stroke-width="1.2" stroke-linecap="round"/>
<path d="M694,472.5 C698,467.0 698,457.0 699,449.0 C699.5,443.0 697,437.0 696,433.0 M699,453.0 C703,449.0 708,448.0 712,443.0 M699,445.0 C702,440.0 706,438.0 707,433.0 M706,448.5 C708,451.0 711,452.0 714,451.0" fill="none" stroke="#b4564f" stroke-width="1" stroke-linecap="round"/>
</g>
<path d="M554,471.8 C594,473.5 624,470.0 654,469.5 S704,472.0 734,469.0" fill="none" stroke="#d96a50" stroke-width="1.1"/>
<path d="M554,473.8 C604,475.2 674,473.5 734,471.8" fill="none" stroke="#3c4a72" stroke-width="1.5"/>
<path d="M554.0,404.0 L579.9,404.3 L592.5,404.4 L600.5,404.6 L606.8,404.7 L611.2,404.8 L615.5,404.8 L619.5,404.5 L623.2,404.1 L626.8,403.4 L631.1,402.9 L636.4,402.5 L642.5,402.1 L649.5,401.9 L657.2,401.9 L665.8,402.1 L675.0,402.6 L685.0,403.4 L694.7,403.8 L704.1,404.0 L715.3,403.8 L735.0,403.0 L735.0,418.5 L715.3,419.3 L704.1,419.5 L694.7,419.3 L685.0,418.9 L675.0,418.1 L665.8,417.6 L657.2,417.3 L649.5,417.2 L642.5,417.3 L636.4,417.6 L631.1,418.0 L626.8,418.6 L623.2,419.4 L619.5,419.9 L615.5,420.2 L611.2,420.3 L606.8,420.2 L600.5,420.1 L592.5,419.9 L579.9,419.8 L554.0,419.5Z" fill="#ffffff" stroke="#ffffff" stroke-width="1.2" stroke-linejoin="round"/>
<g transform="translate(560.7,411.8) rotate(0.6)"><rect x="-5.7" y="-6.0" width="11.3" height="12.1" rx="1.2" fill="#b9aecb"/><rect x="-1.9" y="-0.7" width="3.8" height="1.4" rx="0.7" fill="#716c98"/></g>
<g transform="translate(574.0,412.0) rotate(0.6)"><rect x="-6.4" y="-7.2" width="12.7" height="14.5" rx="1.2" fill="#36a6bf"/><rect x="-1.9" y="-0.7" width="3.8" height="1.4" rx="0.7" fill="#176a86"/></g>
<g transform="translate(587.3,412.1) rotate(0.6)"><rect x="-5.7" y="-6.0" width="11.3" height="12.1" rx="1.2" fill="#b9aecb"/><rect x="-1.9" y="-0.7" width="3.8" height="1.4" rx="0.7" fill="#716c98"/></g>
<g transform="translate(600.7,412.3) rotate(1.3)"><rect x="-5.7" y="-6.0" width="11.3" height="12.1" rx="1.2" fill="#b9aecb"/><rect x="-1.9" y="-0.7" width="3.8" height="1.4" rx="0.7" fill="#716c98"/></g>
<g transform="translate(614.0,412.6) rotate(1.6)"><rect x="-6.4" y="-7.2" width="12.7" height="14.5" rx="1.2" fill="#36a6bf"/><rect x="-1.9" y="-0.7" width="3.8" height="1.4" rx="0.7" fill="#176a86"/></g>
<g transform="translate(627.0,411.0) rotate(-11.1)"><rect x="-5.5" y="-5.9" width="11.1" height="11.8" rx="1.2" fill="#b9aecb"/><rect x="-1.9" y="-0.7" width="3.8" height="1.4" rx="0.7" fill="#716c98"/></g>
<g transform="translate(639.9,409.8) rotate(-1.5)"><rect x="-5.5" y="-5.9" width="11.0" height="11.7" rx="1.2" fill="#b9aecb"/><rect x="-1.9" y="-0.7" width="3.8" height="1.4" rx="0.7" fill="#716c98"/></g>
<g transform="translate(653.0,409.4) rotate(-1.5)"><rect x="-5.6" y="-6.0" width="11.2" height="12.0" rx="1.2" fill="#b9aecb"/><rect x="-1.9" y="-0.7" width="3.8" height="1.4" rx="0.7" fill="#716c98"/></g>
<g transform="translate(666.3,409.7) rotate(4.3)"><rect x="-5.7" y="-6.0" width="11.3" height="12.1" rx="1.2" fill="#b9aecb"/><rect x="-1.9" y="-0.7" width="3.8" height="1.4" rx="0.7" fill="#716c98"/></g>
<g transform="translate(679.6,410.7) rotate(4.3)"><rect x="-5.7" y="-6.0" width="11.3" height="12.1" rx="1.2" fill="#b9aecb"/><rect x="-1.9" y="-0.7" width="3.8" height="1.4" rx="0.7" fill="#716c98"/></g>
<g transform="translate(692.9,411.7) rotate(4.3)"><rect x="-6.4" y="-7.2" width="12.7" height="14.5" rx="1.2" fill="#36a6bf"/><rect x="-1.9" y="-0.7" width="3.8" height="1.4" rx="0.7" fill="#176a86"/></g>
<g transform="translate(706.2,412.0) rotate(-2.5)"><rect x="-5.7" y="-6.0" width="11.3" height="12.1" rx="1.2" fill="#b9aecb"/><rect x="-1.9" y="-0.7" width="3.8" height="1.4" rx="0.7" fill="#716c98"/></g>
<g transform="translate(719.5,411.4) rotate(-2.5)"><rect x="-5.7" y="-6.0" width="11.3" height="12.1" rx="1.2" fill="#b9aecb"/><rect x="-1.9" y="-0.7" width="3.8" height="1.4" rx="0.7" fill="#716c98"/></g>
<g transform="translate(732.8,410.8) rotate(-2.5)"><rect x="-5.7" y="-6.0" width="11.3" height="12.1" rx="1.2" fill="#b9aecb"/><rect x="-1.9" y="-0.7" width="3.8" height="1.4" rx="0.7" fill="#716c98"/></g>
<path d="M554.0,372.0 L579.9,372.3 L594.5,372.3 L606.5,372.3 L618.8,372.1 L631.2,371.9 L645.9,371.7 L662.8,371.7 L687.2,371.7 L735.0,372.0 L735.0,403.0 L715.3,403.8 L704.1,404.0 L694.7,403.8 L685.0,403.4 L675.0,402.6 L665.8,402.1 L657.2,401.9 L649.5,401.9 L642.5,402.1 L636.4,402.5 L631.1,402.9 L626.8,403.4 L623.2,404.1 L619.5,404.5 L615.5,404.8 L611.2,404.8 L606.8,404.7 L600.5,404.6 L592.5,404.4 L579.9,404.3 L554.0,404.0Z" fill="#e5938f"/>
<path d="M554.0,377.3 L555.0,373.6 L556.0,372.8 L557.0,372.5 L558.0,372.4 L559.0,372.4 L560.0,372.4 L561.0,372.4 L562.0,372.4 L563.0,372.4 L564.0,372.5 L565.0,372.5 L566.0,372.5 L567.0,372.6 L568.0,373.0 L569.0,373.8 L570.0,377.5 L570.0,377.5 L569.0,381.2 L568.0,382.0 L567.0,382.3 L566.0,382.4 L565.0,382.4 L564.0,382.4 L563.0,382.4 L562.0,382.4 L561.0,382.4 L560.0,382.4 L559.0,382.4 L558.0,382.3 L557.0,382.2 L556.0,381.9 L555.0,381.0 L554.0,377.3Z M572.0,377.5 L573.0,374.4 L574.0,373.5 L575.0,373.1 L576.0,372.8 L577.0,372.7 L578.0,372.7 L579.0,372.6 L580.0,372.6 L581.0,372.6 L582.0,372.6 L583.0,372.6 L584.0,372.6 L585.0,372.7 L586.0,372.7 L587.0,372.7 L588.0,372.7 L589.0,372.7 L590.0,372.7 L591.0,372.7 L592.0,372.8 L593.0,372.9 L594.0,373.2 L595.0,373.7 L596.0,374.6 L597.0,377.7 L597.0,377.7 L596.0,380.8 L595.0,381.7 L594.0,382.2 L593.0,382.4 L592.0,382.6 L591.0,382.6 L590.0,382.7 L589.0,382.7 L588.0,382.7 L587.0,382.6 L586.0,382.6 L585.0,382.6 L584.0,382.6 L583.0,382.6 L582.0,382.6 L581.0,382.6 L580.0,382.6 L579.0,382.6 L578.0,382.5 L577.0,382.4 L576.0,382.3 L575.0,382.0 L574.0,381.6 L573.0,380.7 L572.0,377.5Z M598.0,377.7 L599.0,374.3 L600.0,373.4 L601.0,373.0 L602.0,372.8 L603.0,372.7 L604.0,372.7 L605.0,372.6 L606.0,372.6 L607.0,372.6 L608.0,372.6 L609.0,372.6 L610.0,372.6 L611.0,372.6 L612.0,372.6 L613.0,372.6 L614.0,372.6 L615.0,372.7 L616.0,372.9 L617.0,373.3 L618.0,374.1 L619.0,377.5 L619.0,377.5 L618.0,380.9 L617.0,381.9 L616.0,382.3 L615.0,382.5 L614.0,382.6 L613.0,382.7 L612.0,382.7 L611.0,382.7 L610.0,382.7 L609.0,382.7 L608.0,382.7 L607.0,382.7 L606.0,382.7 L605.0,382.7 L604.0,382.7 L603.0,382.7 L602.0,382.6 L601.0,382.4 L600.0,381.9 L599.0,381.1 L598.0,377.7Z M620.0,377.5 L621.0,374.1 L622.0,373.2 L623.0,372.8 L624.0,372.5 L625.0,372.4 L626.0,372.4 L627.0,372.3 L628.0,372.3 L629.0,372.3 L630.0,372.3 L631.0,372.2 L632.0,372.2 L633.0,372.2 L634.0,372.2 L635.0,372.2 L636.0,372.2 L637.0,372.2 L638.0,372.3 L639.0,372.5 L640.0,372.9 L641.0,373.7 L642.0,376.8 L642.0,376.8 L641.0,380.0 L640.0,380.8 L639.0,381.3 L638.0,381.5 L637.0,381.6 L636.0,381.7 L635.0,381.7 L634.0,381.8 L633.0,381.8 L632.0,381.8 L631.0,381.9 L630.0,381.9 L629.0,382.0 L628.0,382.0 L627.0,382.1 L626.0,382.1 L625.0,382.2 L624.0,382.1 L623.0,382.0 L622.0,381.6 L621.0,380.8 L620.0,377.5Z M644.0,376.8 L645.0,373.5 L646.0,372.7 L647.0,372.3 L648.0,372.2 L649.0,372.1 L650.0,372.1 L651.0,372.1 L652.0,372.0 L653.0,372.0 L654.0,372.0 L655.0,372.0 L656.0,372.0 L657.0,372.0 L658.0,372.1 L659.0,372.1 L660.0,372.3 L661.0,372.6 L662.0,373.4 L663.0,376.7 L663.0,376.7 L662.0,380.0 L661.0,380.8 L660.0,381.2 L659.0,381.3 L658.0,381.4 L657.0,381.4 L656.0,381.4 L655.0,381.4 L654.0,381.4 L653.0,381.4 L652.0,381.4 L651.0,381.4 L650.0,381.4 L649.0,381.4 L648.0,381.3 L647.0,381.2 L646.0,380.9 L645.0,380.1 L644.0,376.8Z M665.0,376.7 L666.0,373.6 L667.0,372.7 L668.0,372.3 L669.0,372.2 L670.0,372.1 L671.0,372.0 L672.0,372.0 L673.0,372.0 L674.0,372.0 L675.0,372.0 L676.0,372.0 L677.0,372.0 L678.0,372.0 L679.0,372.1 L680.0,372.1 L681.0,372.1 L682.0,372.2 L683.0,372.4 L684.0,372.8 L685.0,373.7 L686.0,377.0 L686.0,377.0 L685.0,380.3 L684.0,381.1 L683.0,381.5 L682.0,381.7 L681.0,381.8 L680.0,381.8 L679.0,381.8 L678.0,381.7 L677.0,381.7 L676.0,381.7 L675.0,381.6 L674.0,381.6 L673.0,381.6 L672.0,381.6 L671.0,381.6 L670.0,381.5 L669.0,381.4 L668.0,381.2 L667.0,380.8 L666.0,379.9 L665.0,376.7Z M687.0,377.0 L688.0,373.6 L689.0,372.8 L690.0,372.4 L691.0,372.2 L692.0,372.1 L693.0,372.1 L694.0,372.1 L695.0,372.1 L696.0,372.1 L697.0,372.1 L698.0,372.1 L699.0,372.1 L700.0,372.1 L701.0,372.2 L702.0,372.2 L703.0,372.3 L704.0,372.5 L705.0,372.9 L706.0,373.8 L707.0,377.2 L707.0,377.2 L706.0,380.6 L705.0,381.5 L704.0,381.9 L703.0,382.1 L702.0,382.1 L701.0,382.2 L700.0,382.2 L699.0,382.2 L698.0,382.1 L697.0,382.1 L696.0,382.1 L695.0,382.1 L694.0,382.1 L693.0,382.1 L692.0,382.0 L691.0,381.9 L690.0,381.7 L689.0,381.3 L688.0,380.4 L687.0,377.0Z M709.0,377.2 L710.0,373.7 L711.0,372.9 L712.0,372.5 L713.0,372.3 L714.0,372.3 L715.0,372.2 L716.0,372.2 L717.0,372.2 L718.0,372.3 L719.0,372.3 L720.0,372.3 L721.0,372.3 L722.0,372.3 L723.0,372.3 L724.0,372.4 L725.0,372.5 L726.0,372.9 L727.0,373.8 L728.0,377.2 L728.0,377.2 L727.0,380.6 L726.0,381.4 L725.0,381.8 L724.0,382.0 L723.0,382.1 L722.0,382.1 L721.0,382.1 L720.0,382.1 L719.0,382.1 L718.0,382.2 L717.0,382.2 L716.0,382.2 L715.0,382.2 L714.0,382.2 L713.0,382.1 L712.0,381.9 L711.0,381.5 L710.0,380.7 L709.0,377.2Z M730.0,377.2 L731.0,372.4 L732.0,372.3 L733.0,372.4 L734.0,377.2 L734.0,377.2 L733.0,382.0 L732.0,382.0 L731.0,382.0 L730.0,377.2Z M554.0,388.0 L555.0,383.1 L556.0,383.0 L557.0,383.0 L558.0,383.2 L559.0,388.1 L559.0,388.1 L558.0,392.9 L557.0,393.0 L556.0,393.0 L555.0,392.9 L554.0,388.0Z M561.0,388.1 L562.0,384.8 L563.0,383.9 L564.0,383.5 L565.0,383.3 L566.0,383.2 L567.0,383.2 L568.0,383.2 L569.0,383.2 L570.0,383.2 L571.0,383.2 L572.0,383.2 L573.0,383.2 L574.0,383.2 L575.0,383.2 L576.0,383.3 L577.0,383.3 L578.0,383.3 L579.0,383.5 L580.0,383.7 L581.0,384.1 L582.0,385.0 L583.0,388.3 L583.0,388.3 L582.0,391.6 L581.0,392.5 L580.0,392.9 L579.0,393.1 L578.0,393.2 L577.0,393.2 L576.0,393.2 L575.0,393.2 L574.0,393.2 L573.0,393.2 L572.0,393.2 L571.0,393.2 L570.0,393.2 L569.0,393.1 L568.0,393.1 L567.0,393.1 L566.0,393.0 L565.0,392.9 L564.0,392.7 L563.0,392.3 L562.0,391.4 L561.0,388.1Z M585.0,388.3 L586.0,385.2 L587.0,384.3 L588.0,383.9 L589.0,383.6 L590.0,383.5 L591.0,383.4 L592.0,383.4 L593.0,383.4 L594.0,383.4 L595.0,383.4 L596.0,383.4 L597.0,383.4 L598.0,383.4 L599.0,383.4 L600.0,383.4 L601.0,383.4 L602.0,383.4 L603.0,383.4 L604.0,383.5 L605.0,383.5 L606.0,383.7 L607.0,383.9 L608.0,384.4 L609.0,385.3 L610.0,388.5 L610.0,388.5 L609.0,391.7 L608.0,392.6 L607.0,393.0 L606.0,393.3 L605.0,393.4 L604.0,393.5 L603.0,393.5 L602.0,393.5 L601.0,393.5 L600.0,393.5 L599.0,393.4 L598.0,393.4 L597.0,393.4 L596.0,393.4 L595.0,393.4 L594.0,393.4 L593.0,393.4 L592.0,393.4 L591.0,393.3 L590.0,393.2 L589.0,393.1 L588.0,392.8 L587.0,392.4 L586.0,391.5 L585.0,388.3Z M611.0,388.5 L612.0,385.3 L613.0,384.3 L614.0,383.9 L615.0,383.6 L616.0,383.5 L617.0,383.4 L618.0,383.3 L619.0,383.3 L620.0,383.2 L621.0,383.2 L622.0,383.1 L623.0,383.1 L624.0,383.0 L625.0,382.9 L626.0,382.9 L627.0,382.8 L628.0,382.8 L629.0,382.7 L630.0,382.7 L631.0,382.8 L632.0,383.0 L633.0,383.4 L634.0,384.2 L635.0,387.2 L635.0,387.2 L634.0,390.3 L633.0,391.2 L632.0,391.7 L631.0,392.0 L630.0,392.2 L629.0,392.4 L628.0,392.5 L627.0,392.6 L626.0,392.7 L625.0,392.8 L624.0,392.9 L623.0,393.1 L622.0,393.1 L621.0,393.2 L620.0,393.3 L619.0,393.4 L618.0,393.4 L617.0,393.4 L616.0,393.4 L615.0,393.3 L614.0,393.1 L613.0,392.6 L612.0,391.7 L611.0,388.5Z M637.0,387.1 L638.0,384.1 L639.0,383.2 L640.0,382.8 L641.0,382.5 L642.0,382.4 L643.0,382.3 L644.0,382.2 L645.0,382.2 L646.0,382.2 L647.0,382.1 L648.0,382.1 L649.0,382.1 L650.0,382.1 L651.0,382.1 L652.0,382.1 L653.0,382.1 L654.0,382.1 L655.0,382.1 L656.0,382.1 L657.0,382.2 L658.0,382.3 L659.0,382.6 L660.0,383.0 L661.0,383.9 L662.0,386.8 L662.0,386.8 L661.0,389.8 L660.0,390.6 L659.0,391.0 L658.0,391.2 L657.0,391.3 L656.0,391.4 L655.0,391.4 L654.0,391.5 L653.0,391.5 L652.0,391.5 L651.0,391.5 L650.0,391.5 L649.0,391.5 L648.0,391.5 L647.0,391.5 L646.0,391.6 L645.0,391.6 L644.0,391.6 L643.0,391.6 L642.0,391.6 L641.0,391.5 L640.0,391.3 L639.0,390.9 L638.0,390.1 L637.0,387.1Z M664.0,386.9 L665.0,383.8 L666.0,382.9 L667.0,382.6 L668.0,382.4 L669.0,382.3 L670.0,382.3 L671.0,382.3 L672.0,382.3 L673.0,382.3 L674.0,382.3 L675.0,382.4 L676.0,382.4 L677.0,382.4 L678.0,382.4 L679.0,382.5 L680.0,382.5 L681.0,382.6 L682.0,382.7 L683.0,382.9 L684.0,383.4 L685.0,384.3 L686.0,387.6 L686.0,387.6 L685.0,390.8 L684.0,391.6 L683.0,392.0 L682.0,392.2 L681.0,392.2 L680.0,392.2 L679.0,392.2 L678.0,392.1 L677.0,392.1 L676.0,392.0 L675.0,392.0 L674.0,391.9 L673.0,391.9 L672.0,391.9 L671.0,391.8 L670.0,391.8 L669.0,391.7 L668.0,391.5 L667.0,391.3 L666.0,390.9 L665.0,390.0 L664.0,386.9Z M688.0,387.6 L689.0,384.1 L690.0,383.3 L691.0,383.0 L692.0,382.8 L693.0,382.8 L694.0,382.8 L695.0,382.8 L696.0,382.8 L697.0,382.8 L698.0,382.8 L699.0,382.9 L700.0,382.9 L701.0,382.9 L702.0,383.0 L703.0,383.1 L704.0,383.5 L705.0,384.3 L706.0,387.9 L706.0,387.9 L705.0,391.5 L704.0,392.4 L703.0,392.7 L702.0,392.8 L701.0,392.9 L700.0,392.9 L699.0,392.9 L698.0,392.9 L697.0,392.8 L696.0,392.8 L695.0,392.8 L694.0,392.8 L693.0,392.7 L692.0,392.6 L691.0,392.5 L690.0,392.1 L689.0,391.2 L688.0,387.6Z M707.0,387.9 L708.0,384.8 L709.0,383.9 L710.0,383.4 L711.0,383.1 L712.0,383.0 L713.0,382.9 L714.0,382.9 L715.0,382.9 L716.0,382.9 L717.0,382.9 L718.0,382.9 L719.0,382.8 L720.0,382.8 L721.0,382.8 L722.0,382.8 L723.0,382.8 L724.0,382.8 L725.0,382.8 L726.0,382.8 L727.0,382.9 L728.0,383.0 L729.0,383.2 L730.0,383.7 L731.0,384.5 L732.0,387.6 L732.0,387.6 L731.0,390.6 L730.0,391.5 L729.0,392.0 L728.0,392.3 L727.0,392.4 L726.0,392.5 L725.0,392.6 L724.0,392.6 L723.0,392.6 L722.0,392.7 L721.0,392.7 L720.0,392.7 L719.0,392.7 L718.0,392.8 L717.0,392.8 L716.0,392.8 L715.0,392.8 L714.0,392.8 L713.0,392.8 L712.0,392.8 L711.0,392.6 L710.0,392.4 L709.0,391.9 L708.0,391.0 L707.0,387.9Z M554.0,398.7 L555.0,394.6 L556.0,393.9 L557.0,393.8 L558.0,393.7 L559.0,393.7 L560.0,393.7 L561.0,393.8 L562.0,393.8 L563.0,393.8 L564.0,394.0 L565.0,394.7 L566.0,398.8 L566.0,398.8 L565.0,402.9 L564.0,403.5 L563.0,403.7 L562.0,403.7 L561.0,403.7 L560.0,403.7 L559.0,403.7 L558.0,403.7 L557.0,403.6 L556.0,403.4 L555.0,402.7 L554.0,398.7Z M568.0,398.8 L569.0,395.3 L570.0,394.4 L571.0,394.1 L572.0,394.0 L573.0,393.9 L574.0,393.9 L575.0,393.9 L576.0,393.9 L577.0,393.9 L578.0,393.9 L579.0,394.0 L580.0,394.0 L581.0,394.0 L582.0,394.1 L583.0,394.2 L584.0,394.6 L585.0,395.5 L586.0,399.0 L586.0,399.0 L585.0,402.6 L584.0,403.4 L583.0,403.7 L582.0,403.9 L581.0,403.9 L580.0,403.9 L579.0,403.9 L578.0,403.9 L577.0,403.9 L576.0,403.9 L575.0,403.9 L574.0,403.9 L573.0,403.8 L572.0,403.8 L571.0,403.6 L570.0,403.2 L569.0,402.4 L568.0,398.8Z M588.0,399.0 L589.0,395.9 L590.0,395.0 L591.0,394.5 L592.0,394.3 L593.0,394.2 L594.0,394.1 L595.0,394.1 L596.0,394.1 L597.0,394.1 L598.0,394.1 L599.0,394.1 L600.0,394.2 L601.0,394.2 L602.0,394.2 L603.0,394.2 L604.0,394.2 L605.0,394.2 L606.0,394.3 L607.0,394.3 L608.0,394.5 L609.0,394.7 L610.0,395.2 L611.0,396.1 L612.0,399.4 L612.0,399.4 L611.0,402.6 L610.0,403.5 L609.0,403.9 L608.0,404.1 L607.0,404.2 L606.0,404.3 L605.0,404.3 L604.0,404.3 L603.0,404.3 L602.0,404.2 L601.0,404.2 L600.0,404.2 L599.0,404.2 L598.0,404.2 L597.0,404.2 L596.0,404.1 L595.0,404.1 L594.0,404.1 L593.0,404.0 L592.0,403.9 L591.0,403.6 L590.0,403.1 L589.0,402.2 L588.0,399.0Z M613.0,399.4 L614.0,396.0 L615.0,395.1 L616.0,394.6 L617.0,394.3 L618.0,394.2 L619.0,394.1 L620.0,394.0 L621.0,393.9 L622.0,393.8 L623.0,393.8 L624.0,393.6 L625.0,393.5 L626.0,393.4 L627.0,393.3 L628.0,393.2 L629.0,393.1 L630.0,393.1 L631.0,393.1 L632.0,393.2 L633.0,393.6 L634.0,394.4 L635.0,397.5 L635.0,397.5 L634.0,400.7 L633.0,401.6 L632.0,402.1 L631.0,402.4 L630.0,402.6 L629.0,402.8 L628.0,402.9 L627.0,403.1 L626.0,403.2 L625.0,403.4 L624.0,403.6 L623.0,403.7 L622.0,403.9 L621.0,404.0 L620.0,404.1 L619.0,404.2 L618.0,404.2 L617.0,404.1 L616.0,404.0 L615.0,403.6 L614.0,402.7 L613.0,399.4Z M637.0,397.3 L638.0,393.9 L639.0,393.1 L640.0,392.7 L641.0,392.5 L642.0,392.4 L643.0,392.3 L644.0,392.3 L645.0,392.3 L646.0,392.3 L647.0,392.2 L648.0,392.2 L649.0,392.2 L650.0,392.2 L651.0,392.2 L652.0,392.4 L653.0,392.7 L654.0,393.5 L655.0,396.8 L655.0,396.8 L654.0,400.2 L653.0,401.0 L652.0,401.3 L651.0,401.5 L650.0,401.5 L649.0,401.5 L648.0,401.6 L647.0,401.6 L646.0,401.6 L645.0,401.7 L644.0,401.7 L643.0,401.8 L642.0,401.8 L641.0,401.8 L640.0,401.7 L639.0,401.4 L638.0,400.7 L637.0,397.3Z M657.0,396.8 L658.0,393.5 L659.0,392.7 L660.0,392.4 L661.0,392.3 L662.0,392.3 L663.0,392.3 L664.0,392.3 L665.0,392.3 L666.0,392.3 L667.0,392.4 L668.0,392.4 L669.0,392.5 L670.0,392.5 L671.0,392.7 L672.0,393.1 L673.0,393.9 L674.0,397.4 L674.0,397.4 L673.0,400.9 L672.0,401.6 L671.0,401.9 L670.0,402.0 L669.0,401.9 L668.0,401.9 L667.0,401.8 L666.0,401.8 L665.0,401.8 L664.0,401.7 L663.0,401.7 L662.0,401.7 L661.0,401.6 L660.0,401.4 L659.0,401.1 L658.0,400.3 L657.0,396.8Z M676.0,397.5 L677.0,394.5 L678.0,393.7 L679.0,393.3 L680.0,393.1 L681.0,393.1 L682.0,393.1 L683.0,393.1 L684.0,393.1 L685.0,393.2 L686.0,393.2 L687.0,393.2 L688.0,393.3 L689.0,393.3 L690.0,393.3 L691.0,393.4 L692.0,393.4 L693.0,393.5 L694.0,393.5 L695.0,393.6 L696.0,393.7 L697.0,394.0 L698.0,394.5 L699.0,395.4 L700.0,398.6 L700.0,398.6 L699.0,401.8 L698.0,402.6 L697.0,403.1 L696.0,403.3 L695.0,403.4 L694.0,403.4 L693.0,403.4 L692.0,403.4 L691.0,403.3 L690.0,403.3 L689.0,403.2 L688.0,403.2 L687.0,403.1 L686.0,403.1 L685.0,403.0 L684.0,402.9 L683.0,402.9 L682.0,402.8 L681.0,402.6 L680.0,402.4 L679.0,402.1 L678.0,401.6 L677.0,400.7 L676.0,397.5Z M701.0,398.6 L702.0,395.5 L703.0,394.7 L704.0,394.2 L705.0,393.9 L706.0,393.8 L707.0,393.7 L708.0,393.6 L709.0,393.6 L710.0,393.6 L711.0,393.6 L712.0,393.6 L713.0,393.6 L714.0,393.6 L715.0,393.5 L716.0,393.5 L717.0,393.5 L718.0,393.5 L719.0,393.5 L720.0,393.4 L721.0,393.4 L722.0,393.5 L723.0,393.6 L724.0,393.8 L725.0,394.3 L726.0,395.1 L727.0,398.1 L727.0,398.1 L726.0,401.2 L725.0,402.1 L724.0,402.6 L723.0,402.9 L722.0,403.1 L721.0,403.2 L720.0,403.3 L719.0,403.3 L718.0,403.4 L717.0,403.4 L716.0,403.5 L715.0,403.5 L714.0,403.5 L713.0,403.5 L712.0,403.5 L711.0,403.6 L710.0,403.6 L709.0,403.6 L708.0,403.6 L707.0,403.6 L706.0,403.5 L705.0,403.4 L704.0,403.1 L703.0,402.6 L702.0,401.7 L701.0,398.6Z M728.0,398.1 L729.0,393.4 L730.0,393.2 L731.0,393.1 L732.0,393.1 L733.0,393.3 L734.0,397.9 L734.0,397.9 L733.0,402.5 L732.0,402.8 L731.0,402.8 L730.0,402.9 L729.0,402.7 L728.0,398.1Z" fill="#f7c2bd"/>
<path d="M560.0,377.7l4,-0.6 M583.0,377.9l4,-0.6 M607.0,378.0l4,-0.6 M629.0,377.4l4,-0.6 M652.0,377.0l4,-0.6 M674.0,377.2l4,-0.6 M695.0,377.4l4,-0.6 M717.0,377.5l4,-0.6 M730.0,377.5l4,-0.6 M555.0,388.3l4,-0.6 M570.0,388.5l4,-0.6 M596.0,388.7l4,-0.6 M621.0,388.4l4,-0.6 M648.0,387.1l4,-0.6 M673.0,387.5l4,-0.6 M695.0,388.1l4,-0.6 M718.0,388.1l4,-0.6 M558.0,399.0l4,-0.6 M575.0,399.2l4,-0.6 M598.0,399.5l4,-0.6 M622.0,398.9l4,-0.6 M644.0,397.3l4,-0.6 M664.0,397.4l4,-0.6 M686.0,398.5l4,-0.6 M712.0,398.8l4,-0.6 M729.0,398.3l4,-0.6" fill="none" stroke="#fbd8d2" stroke-width="1" stroke-linecap="round"/>
<path d="M554.0,355.8 L735.0,355.8 L735.0,372.0 L687.2,371.7 L662.8,371.7 L645.9,371.7 L631.2,371.9 L618.8,372.1 L606.5,372.3 L594.5,372.3 L579.9,372.3 L554.0,372.0Z" fill="#f9e1a6"/>
<path d="M562.0,358.5 L564.0,358.5 L566.0,358.5 L568.0,358.5 L570.0,358.5 L572.0,358.5 L574.0,358.5 L576.0,358.5 L578.0,358.5 L580.0,358.5 L582.0,358.5 L584.0,358.5 M587.0,358.6 L589.0,358.6 L591.0,358.6 L593.0,358.6 L595.0,358.6 L597.0,358.6 L599.0,358.6 L601.0,358.6 L603.0,358.5 L605.0,358.5 M611.0,358.5 L613.0,358.5 L615.0,358.5 L617.0,358.5 L619.0,358.5 L621.0,358.5 L623.0,358.5 L625.0,358.5 L627.0,358.5 L629.0,358.5 L631.0,358.5 L633.0,358.5 L635.0,358.5 L637.0,358.5 L639.0,358.5 L641.0,358.5 M645.0,358.5 L647.0,358.5 L649.0,358.5 L651.0,358.4 L653.0,358.4 L655.0,358.4 L657.0,358.4 L659.0,358.4 L661.0,358.4 L663.0,358.4 L665.0,358.4 L667.0,358.4 L669.0,358.4 L671.0,358.4 M674.0,358.4 L676.0,358.4 L678.0,358.4 L680.0,358.5 L682.0,358.5 L684.0,358.5 L686.0,358.5 L688.0,358.5 L690.0,358.5 L692.0,358.5 L694.0,358.5 L696.0,358.5 L698.0,358.5 L700.0,358.5 L702.0,358.5 M705.0,358.5 L707.0,358.5 L709.0,358.5 L711.0,358.5 L713.0,358.5 L715.0,358.5 L717.0,358.5 L719.0,358.5 L721.0,358.5 L723.0,358.5 L725.0,358.5 L727.0,358.5 L729.0,358.5 L731.0,358.5 L733.0,358.5 M559.0,361.2 L561.0,361.2 L563.0,361.2 L565.0,361.2 L567.0,361.2 L569.0,361.3 L571.0,361.3 L573.0,361.3 L575.0,361.3 L577.0,361.3 L579.0,361.3 L581.0,361.3 L583.0,361.3 L585.0,361.3 L587.0,361.3 L589.0,361.3 L591.0,361.3 M595.0,361.3 L597.0,361.3 L599.0,361.3 L601.0,361.3 L603.0,361.3 L605.0,361.3 L607.0,361.3 L609.0,361.3 M614.0,361.3 L616.0,361.3 L618.0,361.2 L620.0,361.2 L622.0,361.2 L624.0,361.2 L626.0,361.2 L628.0,361.2 M631.0,361.2 L633.0,361.2 L635.0,361.1 L637.0,361.1 L639.0,361.1 L641.0,361.1 L643.0,361.1 L645.0,361.1 L647.0,361.1 L649.0,361.1 L651.0,361.1 L653.0,361.1 M657.0,361.1 L659.0,361.1 L661.0,361.1 L663.0,361.1 L665.0,361.1 L667.0,361.1 L669.0,361.1 L671.0,361.1 L673.0,361.1 M677.0,361.1 L679.0,361.1 L681.0,361.1 L683.0,361.1 L685.0,361.1 L687.0,361.1 L689.0,361.1 L691.0,361.1 L693.0,361.1 L695.0,361.1 L697.0,361.1 L699.0,361.1 L701.0,361.1 L703.0,361.1 L705.0,361.1 L707.0,361.1 M711.0,361.2 L713.0,361.2 L715.0,361.2 L717.0,361.2 L719.0,361.2 L721.0,361.2 L723.0,361.2 L725.0,361.2 L727.0,361.2 L729.0,361.2 L731.0,361.2 L733.0,361.2 M557.0,363.9 L559.0,363.9 L561.0,363.9 L563.0,363.9 L565.0,364.0 L567.0,364.0 L569.0,364.0 L571.0,364.0 L573.0,364.0 L575.0,364.0 L577.0,364.0 L579.0,364.0 M584.0,364.0 L586.0,364.1 L588.0,364.1 L590.0,364.1 L592.0,364.1 L594.0,364.1 L596.0,364.1 L598.0,364.1 L600.0,364.1 L602.0,364.1 L604.0,364.0 L606.0,364.0 L608.0,364.0 L610.0,364.0 M614.0,364.0 L616.0,364.0 L618.0,364.0 L620.0,364.0 L622.0,363.9 L624.0,363.9 L626.0,363.9 L628.0,363.9 L630.0,363.9 L632.0,363.8 L634.0,363.8 L636.0,363.8 L638.0,363.8 M643.0,363.8 L645.0,363.8 L647.0,363.8 L649.0,363.8 L651.0,363.8 L653.0,363.7 L655.0,363.7 L657.0,363.7 L659.0,363.7 L661.0,363.7 L663.0,363.7 L665.0,363.7 L667.0,363.7 L669.0,363.7 L671.0,363.7 L673.0,363.7 L675.0,363.7 M679.0,363.7 L681.0,363.8 L683.0,363.8 L685.0,363.8 L687.0,363.8 L689.0,363.8 L691.0,363.8 L693.0,363.8 L695.0,363.8 L697.0,363.8 L699.0,363.8 L701.0,363.8 M706.0,363.8 L708.0,363.8 L710.0,363.8 L712.0,363.8 L714.0,363.8 L716.0,363.8 L718.0,363.9 L720.0,363.9 L722.0,363.9 L724.0,363.9 M727.0,363.9 L729.0,363.9 L731.0,363.9 L733.0,363.9 M559.0,366.6 L561.0,366.7 L563.0,366.7 L565.0,366.7 L567.0,366.7 L569.0,366.7 L571.0,366.7 L573.0,366.7 M577.0,366.8 L579.0,366.8 L581.0,366.8 L583.0,366.8 L585.0,366.8 L587.0,366.8 L589.0,366.8 L591.0,366.8 L593.0,366.8 L595.0,366.8 L597.0,366.8 L599.0,366.8 L601.0,366.8 M605.0,366.8 L607.0,366.8 L609.0,366.8 L611.0,366.7 L613.0,366.7 L615.0,366.7 L617.0,366.7 L619.0,366.7 L621.0,366.7 L623.0,366.6 L625.0,366.6 L627.0,366.6 L629.0,366.5 L631.0,366.5 M635.0,366.5 L637.0,366.5 L639.0,366.5 L641.0,366.4 L643.0,366.4 L645.0,366.4 L647.0,366.4 L649.0,366.4 M654.0,366.4 L656.0,366.4 L658.0,366.4 L660.0,366.4 L662.0,366.4 L664.0,366.4 L666.0,366.4 L668.0,366.4 L670.0,366.4 L672.0,366.4 L674.0,366.4 L676.0,366.4 M682.0,366.4 L684.0,366.4 L686.0,366.4 L688.0,366.4 L690.0,366.4 L692.0,366.4 L694.0,366.4 L696.0,366.4 L698.0,366.5 L700.0,366.5 L702.0,366.5 M708.0,366.5 L710.0,366.5 L712.0,366.5 L714.0,366.5 L716.0,366.5 L718.0,366.5 L720.0,366.5 L722.0,366.5 L724.0,366.6 L726.0,366.6 L728.0,366.6 L730.0,366.6 L732.0,366.6 M554.0,369.3 L556.0,369.3 L558.0,369.3 L560.0,369.4 L562.0,369.4 L564.0,369.4 L566.0,369.4 L568.0,369.4 L570.0,369.4 L572.0,369.5 L574.0,369.5 L576.0,369.5 L578.0,369.5 L580.0,369.5 M586.0,369.6 L588.0,369.6 L590.0,369.6 L592.0,369.6 L594.0,369.6 L596.0,369.6 L598.0,369.6 L600.0,369.6 L602.0,369.6 L604.0,369.5 M609.0,369.5 L611.0,369.5 L613.0,369.5 L615.0,369.4 L617.0,369.4 L619.0,369.4 L621.0,369.4 L623.0,369.3 L625.0,369.3 L627.0,369.3 L629.0,369.2 L631.0,369.2 L633.0,369.2 M637.0,369.1 L639.0,369.1 L641.0,369.1 L643.0,369.1 L645.0,369.1 L647.0,369.1 L649.0,369.1 L651.0,369.1 L653.0,369.0 L655.0,369.0 L657.0,369.0 M661.0,369.0 L663.0,369.0 L665.0,369.0 L667.0,369.0 L669.0,369.0 L671.0,369.0 L673.0,369.0 L675.0,369.0 L677.0,369.0 L679.0,369.0 L681.0,369.1 M686.0,369.1 L688.0,369.1 L690.0,369.1 L692.0,369.1 L694.0,369.1 L696.0,369.1 L698.0,369.1 L700.0,369.1 L702.0,369.1 L704.0,369.1 L706.0,369.2 M710.0,369.2 L712.0,369.2 L714.0,369.2 L716.0,369.2 L718.0,369.2 L720.0,369.2 L722.0,369.2 L724.0,369.2 L726.0,369.3 L728.0,369.3 L730.0,369.3 L732.0,369.3" fill="none" stroke="#f0cd88" stroke-width="0.8"/>
<path d="M554.0,372.0 L579.9,372.3 L594.5,372.3 L606.5,372.3 L618.8,372.1 L631.2,371.9 L645.9,371.7 L662.8,371.7 L687.2,371.7 L735.0,372.0" fill="none" stroke="#f3b9a0" stroke-width="1"/>
<path d="M554.0,346.7 L735.0,346.7 L735.0,355.8 L554.0,355.8Z" fill="#f6c2a4"/>
<path d="M554.0,349.7 L556.0,349.7 L558.0,349.7 L560.0,349.7 L562.0,349.7 L564.0,349.7 L566.0,349.7 L568.0,349.7 L570.0,349.7 L572.0,349.7 L574.0,349.7 L576.0,349.7 L578.0,349.7 L580.0,349.7 L582.0,349.7 L584.0,349.7 L586.0,349.7 L588.0,349.7 L590.0,349.7 L592.0,349.7 L594.0,349.7 L596.0,349.7 L598.0,349.7 L600.0,349.7 L602.0,349.7 L604.0,349.7 L606.0,349.7 L608.0,349.7 L610.0,349.7 L612.0,349.7 L614.0,349.7 L616.0,349.7 L618.0,349.7 L620.0,349.7 L622.0,349.7 L624.0,349.7 L626.0,349.7 L628.0,349.7 L630.0,349.7 L632.0,349.7 L634.0,349.7 L636.0,349.7 L638.0,349.7 L640.0,349.7 L642.0,349.7 L644.0,349.7 L646.0,349.7 L648.0,349.7 L650.0,349.7 L652.0,349.7 L654.0,349.7 L656.0,349.7 L658.0,349.7 L660.0,349.7 L662.0,349.7 L664.0,349.7 L666.0,349.7 L668.0,349.7 L670.0,349.7 L672.0,349.7 L674.0,349.7 L676.0,349.7 L678.0,349.7 L680.0,349.7 L682.0,349.7 L684.0,349.7 L686.0,349.7 L688.0,349.7 L690.0,349.7 L692.0,349.7 L694.0,349.7 L696.0,349.7 L698.0,349.7 L700.0,349.7 L702.0,349.7 L704.0,349.7 L706.0,349.7 L708.0,349.7 L710.0,349.7 L712.0,349.7 L714.0,349.7 L716.0,349.7 L718.0,349.7 L720.0,349.7 L722.0,349.7 L724.0,349.7 L726.0,349.7 L728.0,349.7 L730.0,349.7 L732.0,349.7 L734.0,349.7 M554.0,352.8 L556.0,352.8 L558.0,352.8 L560.0,352.8 L562.0,352.8 L564.0,352.8 L566.0,352.8 L568.0,352.8 L570.0,352.8 L572.0,352.8 L574.0,352.8 L576.0,352.8 L578.0,352.8 L580.0,352.8 L582.0,352.8 L584.0,352.8 L586.0,352.8 L588.0,352.8 L590.0,352.8 L592.0,352.8 L594.0,352.8 L596.0,352.8 L598.0,352.8 L600.0,352.8 L602.0,352.8 L604.0,352.8 L606.0,352.8 L608.0,352.8 L610.0,352.8 L612.0,352.8 L614.0,352.8 L616.0,352.8 L618.0,352.8 L620.0,352.8 L622.0,352.8 L624.0,352.8 L626.0,352.8 L628.0,352.8 L630.0,352.8 L632.0,352.8 L634.0,352.8 L636.0,352.8 L638.0,352.8 L640.0,352.8 L642.0,352.8 L644.0,352.8 L646.0,352.8 L648.0,352.8 L650.0,352.8 L652.0,352.8 L654.0,352.8 L656.0,352.8 L658.0,352.8 L660.0,352.8 L662.0,352.8 L664.0,352.8 L666.0,352.8 L668.0,352.8 L670.0,352.8 L672.0,352.8 L674.0,352.8 L676.0,352.8 L678.0,352.8 L680.0,352.8 L682.0,352.8 L684.0,352.8 L686.0,352.8 L688.0,352.8 L690.0,352.8 L692.0,352.8 L694.0,352.8 L696.0,352.8 L698.0,352.8 L700.0,352.8 L702.0,352.8 L704.0,352.8 L706.0,352.8 L708.0,352.8 L710.0,352.8 L712.0,352.8 L714.0,352.8 L716.0,352.8 L718.0,352.8 L720.0,352.8 L722.0,352.8 L724.0,352.8 L726.0,352.8 L728.0,352.8 L730.0,352.8 L732.0,352.8 L734.0,352.8" fill="none" stroke="#eba688" stroke-width="0.8"/>
<path d="M554.0,355.8 L735.0,355.8" fill="none" stroke="#eeb48c" stroke-width="0.9"/>
<path d="M554.0,346.7 L735.0,346.7" fill="none" stroke="#d8946f" stroke-width="1.3"/>
</g>
</svg>


<div id="bottom"></div>
<div class="card" style="left:43px"></div><div class="cap" style="left:43px"></div>
<div class="card" style="left:189px"></div><div class="cap" style="left:189px"></div>
<div class="card" style="left:334px"></div><div class="cap" style="left:334px"></div>
<div class="card" style="left:480px"></div><div class="cap" style="left:480px"></div>
<div class="card" style="left:626px"></div><div class="cap" style="left:626px"></div>

<svg id="icons" class="abs" style="left:0;top:555px" width="800" height="150" viewBox="0 555 800 150">
<g fill="none" stroke="#21140f" stroke-linecap="round" stroke-linejoin="round">
<!-- clock: centre (113.9,626.7) r 39.7 gap 29.6deg..64deg -->
<path d="M133.5,592.2 A39.7,39.7 0 1 0 149.6,609.3" stroke-width="3"/>
<path d="M112.7,602 L112.7,631.1 L138.9,631.1" stroke-width="3"/>
<!-- drops -->
<path d="M232.1,596.6 C229,603 225.2,611 225.4,618 C225.6,623.4 229,626.6 233.6,626.6 C238.6,626.6 242,623 242,617.6 C241.8,611 236.4,602 232.1,596.6 Z" stroke-width="2.8"/>
<path d="M259.4,579.2 C255,590 249.6,606 250,618 C250.4,626.4 256,631 263.4,631 C271,631 276.6,625.6 276.4,616.6 C276,604 265.6,589 259.4,579.2 Z" stroke-width="2.8"/>
<!-- waves -->
<path d="M204.6,648.6 C212,643.6 220,640.6 228.4,639.8 C240,638.6 252,639 264,640.6 C273,642 280,644 286,644.6 C289,644.6 291,641.6 294,641.2 C299,641 304.6,646 307.6,652.4" stroke-width="2.8"/>
<path d="M230.4,641 C222,645 213,650.6 210.2,656.4 C208.6,660.4 212,662.4 219.5,662.2 C231,661.8 241,657.6 250,653.6 C257,650.6 264,650.2 270.4,651 C276,652 281,658 286,661.4 C292,664 300,663.6 307.8,661.6" stroke-width="2.8"/>
<path d="M232,641.4 C240,644 250,647.4 262,648.6 C274,649.4 286,648.4 294,648.2 C299,648.4 304,650 307.6,652.4" stroke-width="2.8"/>
<!-- nasolabial -->
<g stroke-width="2.6">
<path d="M380.4,594 C381.6,599 381.8,605 381.3,609.8 C380.6,616 379.6,622 376.9,627.3 C373.6,633.6 368.6,639 363.8,644.8 C358.6,651.6 353,660 348,668.4"/>
<path d="M387.9,596.6 C389.2,601.6 389.6,606.6 389.1,611.5 C388.4,617.6 387.4,623.6 384.8,629 C381.4,635.6 375.6,642 370.8,648.3 C365.6,655 360,663 355.4,671"/>
<path d="M419.8,594.9 C418.8,600 419,606 419.8,611.5 C420.6,617.6 422,623.6 425,629 C428.6,635.6 434,642 439,648.3 C444,655 449,662 452.7,669.3"/>
<path d="M428.2,594 C427,599 427,604.6 427.6,609.8 C428.4,615.6 429.6,620.6 432,625.5 C435.6,632 441,637.6 446,643 C451.4,650.6 456.6,659 460.9,667.9"/>
</g>
<!-- crow's feet eye -->
<g stroke-width="2.4">
<path d="M585.5,626.4 C585,629 583.6,630.6 581.5,630.8 C579,631 576.6,631 574.5,630.6 C569,628.6 564,626.6 558.8,624.6 C553.6,622 548.6,619.4 543,617.4 C538.6,615.8 533.6,615 529,615.2 C524,615.6 519.4,617.6 515,620.4 C510.4,623.8 506.6,628.4 503.6,633.4 C507,635.6 510.6,637.4 515,638.6 C520.6,640.2 526.6,641.2 532.5,641.3 C538.6,641.2 544.6,640.4 550,639.5 C556,638.6 562,637 567.5,636 C571,635.4 575,635 578,634.4 C580,633.6 581,632.4 581.5,630.8"/>
<path d="M515,644.8 C520.6,646 526.6,646.4 532.5,646.5 C538.6,646.6 544.6,646.4 550,646.2 C556,645.8 562,645.2 567.5,644.8 C571.6,644.4 576,644 579.8,644.4 C582.4,645 584.6,645.9 586.8,645.6 C589,645 590.6,643.6 592,642.1 C593.6,640.6 594.6,639 595.5,637.6"/>
</g>
<!-- V face instrument -->
<g stroke-width="2.5" stroke-linecap="square">
<path d="M678.4,605.4 L658.4,605.4 L658.4,624.4 M707.5,605.4 L727.5,605.4 L727.5,624.4 M678.4,667.2 L658.4,667.2 L658.4,648.2 M707.5,667.2 L727.5,667.2 L727.5,648.2"/>
</g>
<g stroke-width="2.4" stroke="#2a1a15">
<path d="M694.3,613.2 C705,613.2 712.8,623 712.8,635.6 C712.8,648 704.6,661.2 694.3,661.2 C684,661.2 675.8,648 675.8,635.6 C675.8,623 683.6,613.2 694.3,613.2 Z"/>
<ellipse cx="694.3" cy="637.2" rx="4.4" ry="24"/>
<ellipse cx="694.3" cy="637" rx="17.6" ry="6"/>
</g>
</g>
</svg>

<div class="tx" style="left:223.60px;top:19.12px;font-size:21.3px;line-height:28px;letter-spacing:0.405px;font-weight:bold;color:#0a0a0a">After use</div>
<div class="tx" style="left:419.10px;top:21.72px;font-size:21.3px;line-height:28px;letter-spacing:0.080px;font-weight:bold;color:#0a0a0a">Before use</div>
<div class="tx" style="left:373.20px;top:27.35px;font-size:14px;line-height:18px;font-weight:normal;color:#a6a6a6;-webkit-text-stroke:0;transform:scaleX(0.850);transform-origin:0 0">VS.</div>
<div class="tx" style="left:191.60px;top:292.66px;font-size:25.5px;line-height:33px;letter-spacing:-0.011px;font-weight:bold;color:#0a0a0a">Muscle elasticity cycle changes</div>
<div class="tx" style="left:81.10px;top:507.16px;font-size:15.4px;line-height:20px;letter-spacing:0.295px;font-weight:bold;color:#0a0a0a">after a week of use</div>
<div class="tx" style="left:338.60px;top:507.16px;font-size:15.4px;line-height:20px;letter-spacing:0.367px;font-weight:bold;color:#0a0a0a">Use for 1 month</div>
<div class="tx" style="left:584.60px;top:507.16px;font-size:15.4px;line-height:20px;letter-spacing:0.255px;font-weight:bold;color:#0a0a0a">Use for 3 months</div>
<div class="tx" style="left:43.60px;top:718.34px;font-size:15.6px;line-height:20px;letter-spacing:0.224px;font-weight:bold;color:#160c0a">2 times a day, 2-3</div>
<div class="tx" style="left:43.60px;top:739.59px;font-size:15.6px;line-height:20px;letter-spacing:0.124px;font-weight:bold;color:#160c0a">minutes each time</div>
<div class="tx" style="left:190.35px;top:709.59px;font-size:15.6px;line-height:20px;letter-spacing:0.230px;font-weight:bold;color:#160c0a">Washable and not</div>
<div class="tx" style="left:190.35px;top:730.84px;font-size:15.6px;line-height:20px;letter-spacing:0.203px;font-weight:bold;color:#160c0a">suitable for high</div>
<div class="tx" style="left:190.35px;top:752.29px;font-size:15.6px;line-height:20px;letter-spacing:0.416px;font-weight:bold;color:#160c0a">temperature</div>
<div class="tx" style="left:190.35px;top:773.34px;font-size:15.6px;line-height:20px;letter-spacing:0.117px;font-weight:bold;color:#160c0a">disinfection</div>
<div class="tx" style="left:336.60px;top:719.99px;font-size:15.6px;line-height:20px;letter-spacing:-0.056px;font-weight:bold;color:#160c0a">change nasolabial</div>
<div class="tx" style="left:336.60px;top:741.79px;font-size:15.6px;line-height:20px;letter-spacing:-0.162px;font-weight:bold;color:#160c0a">lines</div>
<div class="tx" style="left:476.50px;top:716.49px;font-size:15.6px;line-height:20px;letter-spacing:0.061px;font-weight:bold;color:#160c0a">change crow&#39;s feet</div>
<div class="tx" style="left:629.60px;top:718.84px;font-size:15.6px;line-height:20px;letter-spacing:0.184px;font-weight:bold;color:#160c0a">V face instrument</div>
</body>
</html>
